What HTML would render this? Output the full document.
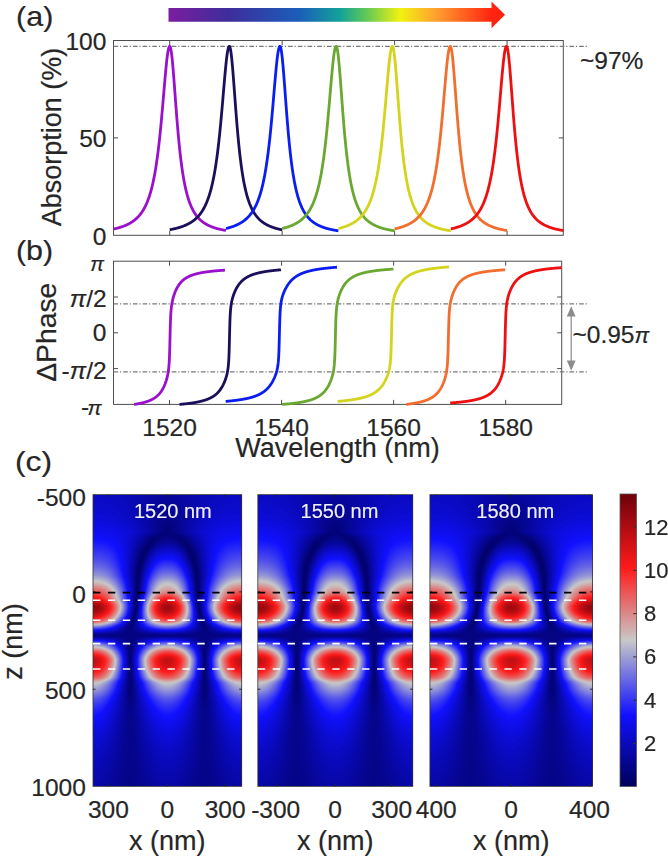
<!DOCTYPE html>
<html><head><meta charset="utf-8"><style>
html,body{margin:0;padding:0;background:#fff;width:668px;height:857px;overflow:hidden;position:relative}
svg{position:absolute;left:0;top:0}
svg text{font-family:"Liberation Sans",sans-serif;fill:#262626;stroke:#262626;stroke-width:0.2px}
canvas{position:absolute}
</style></head><body>
<svg width="668" height="857" viewBox="0 0 668 857">
<defs><linearGradient id="rb" x1="168" y1="0" x2="505" y2="0" gradientUnits="userSpaceOnUse"><stop offset="0" stop-color="#7b1e9e"/><stop offset="0.18" stop-color="#3d2d9c"/><stop offset="0.39" stop-color="#1b5eba"/><stop offset="0.51" stop-color="#12a298"/><stop offset="0.585" stop-color="#5cc75a"/><stop offset="0.69" stop-color="#f2f210"/><stop offset="0.795" stop-color="#ffa030"/><stop offset="0.96" stop-color="#ff2410"/><stop offset="1" stop-color="#ff2010"/></linearGradient></defs>
<path d="M168.5,8 L491.5,8 L491.5,1.5 L505,14.8 L491.5,28.2 L491.5,21.7 L168.5,21.7 Z" fill="url(#rb)"/>
<rect x="113.5" y="40.5" width="449.79999999999995" height="194.8" fill="none" stroke="#4e4e4e" stroke-width="1"/>
<path d="M169.72,235.3 v-4.5 M169.72,40.5 v4.5" stroke="#4e4e4e" stroke-width="1"/>
<path d="M282.17,235.3 v-4.5 M282.17,40.5 v4.5" stroke="#4e4e4e" stroke-width="1"/>
<path d="M394.62,235.3 v-4.5 M394.62,40.5 v4.5" stroke="#4e4e4e" stroke-width="1"/>
<path d="M507.07,235.3 v-4.5 M507.07,40.5 v4.5" stroke="#4e4e4e" stroke-width="1"/>
<path d="M113.5,137.90 h4.5 M563.3,137.90 h-4.5" stroke="#4e4e4e" stroke-width="1"/>
<path d="M113.5,46.34 H588.5" stroke="#7a7a7a" stroke-width="1.3" stroke-dasharray="4.7 1.8 1.2 2"/>
<path d="M113.50,229.05 L113.78,228.99 L114.06,228.92 L114.34,228.86 L114.62,228.80 L114.91,228.73 L115.19,228.67 L115.47,228.60 L115.75,228.53 L116.03,228.47 L116.31,228.40 L116.59,228.33 L116.87,228.25 L117.15,228.18 L117.44,228.11 L117.72,228.03 L118.00,227.96 L118.28,227.88 L118.56,227.80 L118.84,227.72 L119.12,227.64 L119.40,227.56 L119.68,227.47 L119.97,227.39 L120.25,227.30 L120.53,227.21 L120.81,227.13 L121.09,227.03 L121.37,226.94 L121.65,226.85 L121.93,226.75 L122.21,226.66 L122.50,226.56 L122.78,226.46 L123.06,226.36 L123.34,226.25 L123.62,226.15 L123.90,226.04 L124.18,225.93 L124.46,225.82 L124.75,225.71 L125.03,225.59 L125.31,225.48 L125.59,225.36 L125.87,225.24 L126.15,225.11 L126.43,224.99 L126.71,224.86 L126.99,224.73 L127.28,224.60 L127.56,224.46 L127.84,224.32 L128.12,224.18 L128.40,224.04 L128.68,223.90 L128.96,223.75 L129.24,223.60 L129.52,223.44 L129.81,223.29 L130.09,223.13 L130.37,222.96 L130.65,222.80 L130.93,222.63 L131.21,222.45 L131.49,222.28 L131.77,222.10 L132.05,221.91 L132.34,221.73 L132.62,221.54 L132.90,221.34 L133.18,221.14 L133.46,220.94 L133.74,220.73 L134.02,220.52 L134.30,220.30 L134.58,220.08 L134.87,219.85 L135.15,219.62 L135.43,219.38 L135.71,219.14 L135.99,218.90 L136.27,218.64 L136.55,218.39 L136.83,218.12 L137.11,217.85 L137.40,217.57 L137.68,217.29 L137.96,217.00 L138.24,216.71 L138.52,216.40 L138.80,216.09 L139.08,215.78 L139.36,215.45 L139.64,215.12 L139.93,214.78 L140.21,214.43 L140.49,214.07 L140.77,213.70 L141.05,213.33 L141.33,212.94 L141.61,212.55 L141.89,212.14 L142.17,211.73 L142.46,211.30 L142.74,210.86 L143.02,210.41 L143.30,209.95 L143.58,209.48 L143.86,208.99 L144.14,208.49 L144.42,207.98 L144.70,207.45 L144.99,206.91 L145.27,206.36 L145.55,205.79 L145.83,205.20 L146.11,204.60 L146.39,203.98 L146.67,203.34 L146.95,202.68 L147.24,202.00 L147.52,201.31 L147.80,200.59 L148.08,199.85 L148.36,199.10 L148.64,198.31 L148.92,197.51 L149.20,196.68 L149.48,195.82 L149.77,194.94 L150.05,194.04 L150.33,193.10 L150.61,192.14 L150.89,191.14 L151.17,190.12 L151.45,189.06 L151.73,187.97 L152.01,186.84 L152.30,185.68 L152.58,184.48 L152.86,183.24 L153.14,181.96 L153.42,180.65 L153.70,179.28 L153.98,177.88 L154.26,176.43 L154.54,174.93 L154.83,173.39 L155.11,171.79 L155.39,170.14 L155.67,168.44 L155.95,166.68 L156.23,164.87 L156.51,163.00 L156.79,161.07 L157.07,159.08 L157.36,157.03 L157.64,154.91 L157.92,152.73 L158.20,150.49 L158.48,148.17 L158.76,145.79 L159.04,143.34 L159.32,140.82 L159.60,138.23 L159.89,135.58 L160.17,132.85 L160.45,130.06 L160.73,127.20 L161.01,124.28 L161.29,121.29 L161.57,118.25 L161.85,115.15 L162.13,112.00 L162.42,108.81 L162.70,105.57 L162.98,102.30 L163.26,99.01 L163.54,95.70 L163.82,92.38 L164.10,89.07 L164.38,85.77 L164.66,82.51 L164.95,79.28 L165.23,76.11 L165.51,73.02 L165.79,70.01 L166.07,67.11 L166.35,64.33 L166.63,61.69 L166.91,59.21 L167.19,56.90 L167.48,54.78 L167.76,52.87 L168.04,51.19 L168.32,49.73 L168.60,48.53 L168.88,47.58 L169.16,46.89 L169.44,46.48 L169.72,46.34 L170.01,46.52 L170.29,47.06 L170.57,47.95 L170.85,49.18 L171.13,50.74 L171.41,52.61 L171.69,54.77 L171.97,57.20 L172.26,59.88 L172.54,62.78 L172.82,65.87 L173.10,69.14 L173.38,72.55 L173.66,76.07 L173.94,79.70 L174.22,83.39 L174.50,87.13 L174.79,90.91 L175.07,94.70 L175.35,98.48 L175.63,102.24 L175.91,105.97 L176.19,109.66 L176.47,113.29 L176.75,116.86 L177.03,120.36 L177.32,123.78 L177.60,127.13 L177.88,130.39 L178.16,133.57 L178.44,136.65 L178.72,139.65 L179.00,142.56 L179.28,145.37 L179.56,148.10 L179.85,150.74 L180.13,153.29 L180.41,155.76 L180.69,158.14 L180.97,160.44 L181.25,162.66 L181.53,164.80 L181.81,166.87 L182.09,168.87 L182.38,170.79 L182.66,172.64 L182.94,174.43 L183.22,176.15 L183.50,177.82 L183.78,179.42 L184.06,180.97 L184.34,182.46 L184.62,183.90 L184.91,185.28 L185.19,186.62 L185.47,187.91 L185.75,189.16 L186.03,190.36 L186.31,191.52 L186.59,192.64 L186.87,193.72 L187.15,194.77 L187.44,195.78 L187.72,196.75 L188.00,197.69 L188.28,198.61 L188.56,199.49 L188.84,200.34 L189.12,201.16 L189.40,201.96 L189.68,202.73 L189.97,203.48 L190.25,204.20 L190.53,204.90 L190.81,205.58 L191.09,206.24 L191.37,206.88 L191.65,207.49 L191.93,208.09 L192.21,208.67 L192.50,209.24 L192.78,209.78 L193.06,210.31 L193.34,210.83 L193.62,211.33 L193.90,211.81 L194.18,212.29 L194.46,212.74 L194.75,213.19 L195.03,213.62 L195.31,214.04 L195.59,214.45 L195.87,214.85 L196.15,215.23 L196.43,215.61 L196.71,215.98 L196.99,216.33 L197.28,216.68 L197.56,217.02 L197.84,217.35 L198.12,217.67 L198.40,217.98 L198.68,218.29 L198.96,218.58 L199.24,218.87 L199.52,219.15 L199.81,219.43 L200.09,219.70 L200.37,219.96 L200.65,220.22 L200.93,220.46 L201.21,220.71 L201.49,220.95 L201.77,221.18 L202.05,221.40 L202.34,221.63 L202.62,221.84 L202.90,222.05 L203.18,222.26 L203.46,222.46 L203.74,222.66 L204.02,222.85 L204.30,223.04 L204.58,223.22 L204.87,223.40 L205.15,223.58 L205.43,223.75 L205.71,223.92 L205.99,224.09 L206.27,224.25 L206.55,224.41 L206.83,224.56 L207.11,224.71 L207.40,224.86 L207.68,225.01 L207.96,225.15 L208.24,225.29 L208.52,225.43 L208.80,225.56 L209.08,225.69 L209.36,225.82 L209.64,225.95 L209.93,226.07 L210.21,226.20 L210.49,226.31 L210.77,226.43 L211.05,226.55 L211.33,226.66 L211.61,226.77 L211.89,226.88 L212.17,226.98 L212.46,227.09 L212.74,227.19 L213.02,227.29 L213.30,227.39 L213.58,227.49 L213.86,227.58 L214.14,227.67 L214.42,227.77 L214.70,227.86 L214.99,227.95 L215.27,228.03 L215.55,228.12 L215.83,228.20 L216.11,228.28 L216.39,228.37 L216.67,228.45 L216.95,228.52 L217.24,228.60 L217.52,228.68 L217.80,228.75 L218.08,228.82 L218.36,228.90 L218.64,228.97 L218.92,229.04 L219.20,229.11 L219.48,229.17 L219.77,229.24 L220.05,229.31 L220.33,229.37 L220.61,229.43 L220.89,229.50 L221.17,229.56 L221.45,229.62 L221.73,229.68 L222.01,229.74 L222.30,229.79 L222.58,229.85 L222.86,229.91 L223.14,229.96 L223.42,230.01 L223.70,230.07 L223.98,230.12 L224.26,230.17 L224.54,230.22 L224.83,230.27 L225.11,230.32 L225.39,230.37 L225.67,230.42 L225.95,230.47" fill="none" stroke="#9a10cc" stroke-width="2.8" stroke-linejoin="round"/>
<path d="M169.72,229.71 L170.01,229.66 L170.29,229.61 L170.57,229.56 L170.85,229.50 L171.13,229.45 L171.41,229.39 L171.69,229.34 L171.97,229.28 L172.26,229.22 L172.54,229.17 L172.82,229.11 L173.10,229.05 L173.38,228.99 L173.66,228.92 L173.94,228.86 L174.22,228.80 L174.50,228.73 L174.79,228.67 L175.07,228.60 L175.35,228.53 L175.63,228.47 L175.91,228.40 L176.19,228.33 L176.47,228.25 L176.75,228.18 L177.03,228.11 L177.32,228.03 L177.60,227.96 L177.88,227.88 L178.16,227.80 L178.44,227.72 L178.72,227.64 L179.00,227.56 L179.28,227.47 L179.56,227.39 L179.85,227.30 L180.13,227.21 L180.41,227.13 L180.69,227.03 L180.97,226.94 L181.25,226.85 L181.53,226.75 L181.81,226.66 L182.09,226.56 L182.38,226.46 L182.66,226.36 L182.94,226.25 L183.22,226.15 L183.50,226.04 L183.78,225.93 L184.06,225.82 L184.34,225.71 L184.62,225.59 L184.91,225.48 L185.19,225.36 L185.47,225.24 L185.75,225.11 L186.03,224.99 L186.31,224.86 L186.59,224.73 L186.87,224.60 L187.15,224.46 L187.44,224.32 L187.72,224.18 L188.00,224.04 L188.28,223.90 L188.56,223.75 L188.84,223.60 L189.12,223.44 L189.40,223.29 L189.68,223.13 L189.97,222.96 L190.25,222.80 L190.53,222.63 L190.81,222.45 L191.09,222.28 L191.37,222.10 L191.65,221.91 L191.93,221.73 L192.21,221.54 L192.50,221.34 L192.78,221.14 L193.06,220.94 L193.34,220.73 L193.62,220.52 L193.90,220.30 L194.18,220.08 L194.46,219.85 L194.75,219.62 L195.03,219.38 L195.31,219.14 L195.59,218.90 L195.87,218.64 L196.15,218.39 L196.43,218.12 L196.71,217.85 L196.99,217.57 L197.28,217.29 L197.56,217.00 L197.84,216.71 L198.12,216.40 L198.40,216.09 L198.68,215.78 L198.96,215.45 L199.24,215.12 L199.52,214.78 L199.81,214.43 L200.09,214.07 L200.37,213.70 L200.65,213.33 L200.93,212.94 L201.21,212.55 L201.49,212.14 L201.77,211.73 L202.05,211.30 L202.34,210.86 L202.62,210.41 L202.90,209.95 L203.18,209.48 L203.46,208.99 L203.74,208.49 L204.02,207.98 L204.30,207.45 L204.58,206.91 L204.87,206.36 L205.15,205.79 L205.43,205.20 L205.71,204.60 L205.99,203.98 L206.27,203.34 L206.55,202.68 L206.83,202.00 L207.11,201.31 L207.40,200.59 L207.68,199.85 L207.96,199.10 L208.24,198.31 L208.52,197.51 L208.80,196.68 L209.08,195.82 L209.36,194.94 L209.64,194.04 L209.93,193.10 L210.21,192.14 L210.49,191.14 L210.77,190.12 L211.05,189.06 L211.33,187.97 L211.61,186.84 L211.89,185.68 L212.17,184.48 L212.46,183.24 L212.74,181.96 L213.02,180.65 L213.30,179.28 L213.58,177.88 L213.86,176.43 L214.14,174.93 L214.42,173.39 L214.70,171.79 L214.99,170.14 L215.27,168.44 L215.55,166.68 L215.83,164.87 L216.11,163.00 L216.39,161.07 L216.67,159.08 L216.95,157.03 L217.24,154.91 L217.52,152.73 L217.80,150.49 L218.08,148.17 L218.36,145.79 L218.64,143.34 L218.92,140.82 L219.20,138.23 L219.48,135.58 L219.77,132.85 L220.05,130.06 L220.33,127.20 L220.61,124.28 L220.89,121.29 L221.17,118.25 L221.45,115.15 L221.73,112.00 L222.01,108.81 L222.30,105.57 L222.58,102.30 L222.86,99.01 L223.14,95.70 L223.42,92.38 L223.70,89.07 L223.98,85.77 L224.26,82.51 L224.54,79.28 L224.83,76.11 L225.11,73.02 L225.39,70.01 L225.67,67.11 L225.95,64.33 L226.23,61.69 L226.51,59.21 L226.79,56.90 L227.07,54.78 L227.36,52.87 L227.64,51.19 L227.92,49.73 L228.20,48.53 L228.48,47.58 L228.76,46.89 L229.04,46.48 L229.32,46.34 L229.60,46.52 L229.89,47.06 L230.17,47.95 L230.45,49.18 L230.73,50.74 L231.01,52.61 L231.29,54.77 L231.57,57.20 L231.85,59.88 L232.13,62.78 L232.42,65.87 L232.70,69.14 L232.98,72.55 L233.26,76.07 L233.54,79.70 L233.82,83.39 L234.10,87.13 L234.38,90.91 L234.66,94.70 L234.95,98.48 L235.23,102.24 L235.51,105.97 L235.79,109.66 L236.07,113.29 L236.35,116.86 L236.63,120.36 L236.91,123.78 L237.19,127.13 L237.48,130.39 L237.76,133.57 L238.04,136.65 L238.32,139.65 L238.60,142.56 L238.88,145.37 L239.16,148.10 L239.44,150.74 L239.73,153.29 L240.01,155.76 L240.29,158.14 L240.57,160.44 L240.85,162.66 L241.13,164.80 L241.41,166.87 L241.69,168.87 L241.97,170.79 L242.26,172.64 L242.54,174.43 L242.82,176.15 L243.10,177.82 L243.38,179.42 L243.66,180.97 L243.94,182.46 L244.22,183.90 L244.50,185.28 L244.79,186.62 L245.07,187.91 L245.35,189.16 L245.63,190.36 L245.91,191.52 L246.19,192.64 L246.47,193.72 L246.75,194.77 L247.03,195.78 L247.32,196.75 L247.60,197.69 L247.88,198.61 L248.16,199.49 L248.44,200.34 L248.72,201.16 L249.00,201.96 L249.28,202.73 L249.56,203.48 L249.85,204.20 L250.13,204.90 L250.41,205.58 L250.69,206.24 L250.97,206.88 L251.25,207.49 L251.53,208.09 L251.81,208.67 L252.09,209.24 L252.38,209.78 L252.66,210.31 L252.94,210.83 L253.22,211.33 L253.50,211.81 L253.78,212.29 L254.06,212.74 L254.34,213.19 L254.62,213.62 L254.91,214.04 L255.19,214.45 L255.47,214.85 L255.75,215.23 L256.03,215.61 L256.31,215.98 L256.59,216.33 L256.87,216.68 L257.15,217.02 L257.44,217.35 L257.72,217.67 L258.00,217.98 L258.28,218.29 L258.56,218.58 L258.84,218.87 L259.12,219.15 L259.40,219.43 L259.69,219.70 L259.97,219.96 L260.25,220.22 L260.53,220.46 L260.81,220.71 L261.09,220.95 L261.37,221.18 L261.65,221.40 L261.93,221.63 L262.22,221.84 L262.50,222.05 L262.78,222.26 L263.06,222.46 L263.34,222.66 L263.62,222.85 L263.90,223.04 L264.18,223.22 L264.46,223.40 L264.75,223.58 L265.03,223.75 L265.31,223.92 L265.59,224.09 L265.87,224.25 L266.15,224.41 L266.43,224.56 L266.71,224.71 L266.99,224.86 L267.28,225.01 L267.56,225.15 L267.84,225.29 L268.12,225.43 L268.40,225.56 L268.68,225.69 L268.96,225.82 L269.24,225.95 L269.52,226.07 L269.81,226.20 L270.09,226.31 L270.37,226.43 L270.65,226.55 L270.93,226.66 L271.21,226.77 L271.49,226.88 L271.77,226.98 L272.05,227.09 L272.34,227.19 L272.62,227.29 L272.90,227.39 L273.18,227.49 L273.46,227.58 L273.74,227.67 L274.02,227.77 L274.30,227.86 L274.58,227.95 L274.87,228.03 L275.15,228.12 L275.43,228.20 L275.71,228.28 L275.99,228.37 L276.27,228.45 L276.55,228.52 L276.83,228.60 L277.11,228.68 L277.40,228.75 L277.68,228.82 L277.96,228.90 L278.24,228.97 L278.52,229.04 L278.80,229.11 L279.08,229.17 L279.36,229.24 L279.64,229.31 L279.93,229.37 L280.21,229.43 L280.49,229.50 L280.77,229.56 L281.05,229.62 L281.33,229.68 L281.61,229.74 L281.89,229.79 L282.17,229.85" fill="none" stroke="#1c0f5a" stroke-width="2.8" stroke-linejoin="round"/>
<path d="M225.95,228.53 L226.23,228.47 L226.51,228.40 L226.79,228.33 L227.07,228.25 L227.36,228.18 L227.64,228.11 L227.92,228.03 L228.20,227.96 L228.48,227.88 L228.76,227.80 L229.04,227.72 L229.32,227.64 L229.60,227.56 L229.89,227.47 L230.17,227.39 L230.45,227.30 L230.73,227.21 L231.01,227.13 L231.29,227.03 L231.57,226.94 L231.85,226.85 L232.13,226.75 L232.42,226.66 L232.70,226.56 L232.98,226.46 L233.26,226.36 L233.54,226.25 L233.82,226.15 L234.10,226.04 L234.38,225.93 L234.66,225.82 L234.95,225.71 L235.23,225.59 L235.51,225.48 L235.79,225.36 L236.07,225.24 L236.35,225.11 L236.63,224.99 L236.91,224.86 L237.19,224.73 L237.48,224.60 L237.76,224.46 L238.04,224.32 L238.32,224.18 L238.60,224.04 L238.88,223.90 L239.16,223.75 L239.44,223.60 L239.73,223.44 L240.01,223.29 L240.29,223.13 L240.57,222.96 L240.85,222.80 L241.13,222.63 L241.41,222.45 L241.69,222.28 L241.97,222.10 L242.26,221.91 L242.54,221.73 L242.82,221.54 L243.10,221.34 L243.38,221.14 L243.66,220.94 L243.94,220.73 L244.22,220.52 L244.50,220.30 L244.79,220.08 L245.07,219.85 L245.35,219.62 L245.63,219.38 L245.91,219.14 L246.19,218.90 L246.47,218.64 L246.75,218.39 L247.03,218.12 L247.32,217.85 L247.60,217.57 L247.88,217.29 L248.16,217.00 L248.44,216.71 L248.72,216.40 L249.00,216.09 L249.28,215.78 L249.56,215.45 L249.85,215.12 L250.13,214.78 L250.41,214.43 L250.69,214.07 L250.97,213.70 L251.25,213.33 L251.53,212.94 L251.81,212.55 L252.09,212.14 L252.38,211.73 L252.66,211.30 L252.94,210.86 L253.22,210.41 L253.50,209.95 L253.78,209.48 L254.06,208.99 L254.34,208.49 L254.62,207.98 L254.91,207.45 L255.19,206.91 L255.47,206.36 L255.75,205.79 L256.03,205.20 L256.31,204.60 L256.59,203.98 L256.87,203.34 L257.15,202.68 L257.44,202.00 L257.72,201.31 L258.00,200.59 L258.28,199.85 L258.56,199.10 L258.84,198.31 L259.12,197.51 L259.40,196.68 L259.69,195.82 L259.97,194.94 L260.25,194.04 L260.53,193.10 L260.81,192.14 L261.09,191.14 L261.37,190.12 L261.65,189.06 L261.93,187.97 L262.22,186.84 L262.50,185.68 L262.78,184.48 L263.06,183.24 L263.34,181.96 L263.62,180.65 L263.90,179.28 L264.18,177.88 L264.46,176.43 L264.75,174.93 L265.03,173.39 L265.31,171.79 L265.59,170.14 L265.87,168.44 L266.15,166.68 L266.43,164.87 L266.71,163.00 L266.99,161.07 L267.28,159.08 L267.56,157.03 L267.84,154.91 L268.12,152.73 L268.40,150.49 L268.68,148.17 L268.96,145.79 L269.24,143.34 L269.52,140.82 L269.81,138.23 L270.09,135.58 L270.37,132.85 L270.65,130.06 L270.93,127.20 L271.21,124.28 L271.49,121.29 L271.77,118.25 L272.05,115.15 L272.34,112.00 L272.62,108.81 L272.90,105.57 L273.18,102.30 L273.46,99.01 L273.74,95.70 L274.02,92.38 L274.30,89.07 L274.58,85.77 L274.87,82.51 L275.15,79.28 L275.43,76.11 L275.71,73.02 L275.99,70.01 L276.27,67.11 L276.55,64.33 L276.83,61.69 L277.11,59.21 L277.40,56.90 L277.68,54.78 L277.96,52.87 L278.24,51.19 L278.52,49.73 L278.80,48.53 L279.08,47.58 L279.36,46.89 L279.64,46.48 L279.93,46.34 L280.21,46.52 L280.49,47.06 L280.77,47.95 L281.05,49.18 L281.33,50.74 L281.61,52.61 L281.89,54.77 L282.17,57.20 L282.46,59.88 L282.74,62.78 L283.02,65.87 L283.30,69.14 L283.58,72.55 L283.86,76.07 L284.14,79.70 L284.42,83.39 L284.71,87.13 L284.99,90.91 L285.27,94.70 L285.55,98.48 L285.83,102.24 L286.11,105.97 L286.39,109.66 L286.67,113.29 L286.95,116.86 L287.24,120.36 L287.52,123.78 L287.80,127.13 L288.08,130.39 L288.36,133.57 L288.64,136.65 L288.92,139.65 L289.20,142.56 L289.48,145.37 L289.77,148.10 L290.05,150.74 L290.33,153.29 L290.61,155.76 L290.89,158.14 L291.17,160.44 L291.45,162.66 L291.73,164.80 L292.01,166.87 L292.30,168.87 L292.58,170.79 L292.86,172.64 L293.14,174.43 L293.42,176.15 L293.70,177.82 L293.98,179.42 L294.26,180.97 L294.54,182.46 L294.83,183.90 L295.11,185.28 L295.39,186.62 L295.67,187.91 L295.95,189.16 L296.23,190.36 L296.51,191.52 L296.79,192.64 L297.07,193.72 L297.36,194.77 L297.64,195.78 L297.92,196.75 L298.20,197.69 L298.48,198.61 L298.76,199.49 L299.04,200.34 L299.32,201.16 L299.60,201.96 L299.89,202.73 L300.17,203.48 L300.45,204.20 L300.73,204.90 L301.01,205.58 L301.29,206.24 L301.57,206.88 L301.85,207.49 L302.13,208.09 L302.42,208.67 L302.70,209.24 L302.98,209.78 L303.26,210.31 L303.54,210.83 L303.82,211.33 L304.10,211.81 L304.38,212.29 L304.66,212.74 L304.95,213.19 L305.23,213.62 L305.51,214.04 L305.79,214.45 L306.07,214.85 L306.35,215.23 L306.63,215.61 L306.91,215.98 L307.20,216.33 L307.48,216.68 L307.76,217.02 L308.04,217.35 L308.32,217.67 L308.60,217.98 L308.88,218.29 L309.16,218.58 L309.44,218.87 L309.73,219.15 L310.01,219.43 L310.29,219.70 L310.57,219.96 L310.85,220.22 L311.13,220.46 L311.41,220.71 L311.69,220.95 L311.97,221.18 L312.26,221.40 L312.54,221.63 L312.82,221.84 L313.10,222.05 L313.38,222.26 L313.66,222.46 L313.94,222.66 L314.22,222.85 L314.50,223.04 L314.79,223.22 L315.07,223.40 L315.35,223.58 L315.63,223.75 L315.91,223.92 L316.19,224.09 L316.47,224.25 L316.75,224.41 L317.03,224.56 L317.32,224.71 L317.60,224.86 L317.88,225.01 L318.16,225.15 L318.44,225.29 L318.72,225.43 L319.00,225.56 L319.28,225.69 L319.56,225.82 L319.85,225.95 L320.13,226.07 L320.41,226.20 L320.69,226.31 L320.97,226.43 L321.25,226.55 L321.53,226.66 L321.81,226.77 L322.09,226.88 L322.38,226.98 L322.66,227.09 L322.94,227.19 L323.22,227.29 L323.50,227.39 L323.78,227.49 L324.06,227.58 L324.34,227.67 L324.62,227.77 L324.91,227.86 L325.19,227.95 L325.47,228.03 L325.75,228.12 L326.03,228.20 L326.31,228.28 L326.59,228.37 L326.87,228.45 L327.15,228.52 L327.44,228.60 L327.72,228.68 L328.00,228.75 L328.28,228.82 L328.56,228.90 L328.84,228.97 L329.12,229.04 L329.40,229.11 L329.69,229.17 L329.97,229.24 L330.25,229.31 L330.53,229.37 L330.81,229.43 L331.09,229.50 L331.37,229.56 L331.65,229.62 L331.93,229.68 L332.22,229.74 L332.50,229.79 L332.78,229.85 L333.06,229.91 L333.34,229.96 L333.62,230.01 L333.90,230.07 L334.18,230.12 L334.46,230.17 L334.75,230.22 L335.03,230.27 L335.31,230.32 L335.59,230.37 L335.87,230.42 L336.15,230.47 L336.43,230.51 L336.71,230.56 L336.99,230.61 L337.28,230.65 L337.56,230.70 L337.84,230.74 L338.12,230.78 L338.40,230.82" fill="none" stroke="#0a1ef0" stroke-width="2.8" stroke-linejoin="round"/>
<path d="M282.17,228.53 L282.46,228.47 L282.74,228.40 L283.02,228.33 L283.30,228.25 L283.58,228.18 L283.86,228.11 L284.14,228.03 L284.42,227.96 L284.71,227.88 L284.99,227.80 L285.27,227.72 L285.55,227.64 L285.83,227.56 L286.11,227.47 L286.39,227.39 L286.67,227.30 L286.95,227.21 L287.24,227.13 L287.52,227.03 L287.80,226.94 L288.08,226.85 L288.36,226.75 L288.64,226.66 L288.92,226.56 L289.20,226.46 L289.48,226.36 L289.77,226.25 L290.05,226.15 L290.33,226.04 L290.61,225.93 L290.89,225.82 L291.17,225.71 L291.45,225.59 L291.73,225.48 L292.01,225.36 L292.30,225.24 L292.58,225.11 L292.86,224.99 L293.14,224.86 L293.42,224.73 L293.70,224.60 L293.98,224.46 L294.26,224.32 L294.54,224.18 L294.83,224.04 L295.11,223.90 L295.39,223.75 L295.67,223.60 L295.95,223.44 L296.23,223.29 L296.51,223.13 L296.79,222.96 L297.07,222.80 L297.36,222.63 L297.64,222.45 L297.92,222.28 L298.20,222.10 L298.48,221.91 L298.76,221.73 L299.04,221.54 L299.32,221.34 L299.60,221.14 L299.89,220.94 L300.17,220.73 L300.45,220.52 L300.73,220.30 L301.01,220.08 L301.29,219.85 L301.57,219.62 L301.85,219.38 L302.13,219.14 L302.42,218.90 L302.70,218.64 L302.98,218.39 L303.26,218.12 L303.54,217.85 L303.82,217.57 L304.10,217.29 L304.38,217.00 L304.66,216.71 L304.95,216.40 L305.23,216.09 L305.51,215.78 L305.79,215.45 L306.07,215.12 L306.35,214.78 L306.63,214.43 L306.91,214.07 L307.20,213.70 L307.48,213.33 L307.76,212.94 L308.04,212.55 L308.32,212.14 L308.60,211.73 L308.88,211.30 L309.16,210.86 L309.44,210.41 L309.73,209.95 L310.01,209.48 L310.29,208.99 L310.57,208.49 L310.85,207.98 L311.13,207.45 L311.41,206.91 L311.69,206.36 L311.97,205.79 L312.26,205.20 L312.54,204.60 L312.82,203.98 L313.10,203.34 L313.38,202.68 L313.66,202.00 L313.94,201.31 L314.22,200.59 L314.50,199.85 L314.79,199.10 L315.07,198.31 L315.35,197.51 L315.63,196.68 L315.91,195.82 L316.19,194.94 L316.47,194.04 L316.75,193.10 L317.03,192.14 L317.32,191.14 L317.60,190.12 L317.88,189.06 L318.16,187.97 L318.44,186.84 L318.72,185.68 L319.00,184.48 L319.28,183.24 L319.56,181.96 L319.85,180.65 L320.13,179.28 L320.41,177.88 L320.69,176.43 L320.97,174.93 L321.25,173.39 L321.53,171.79 L321.81,170.14 L322.09,168.44 L322.38,166.68 L322.66,164.87 L322.94,163.00 L323.22,161.07 L323.50,159.08 L323.78,157.03 L324.06,154.91 L324.34,152.73 L324.62,150.49 L324.91,148.17 L325.19,145.79 L325.47,143.34 L325.75,140.82 L326.03,138.23 L326.31,135.58 L326.59,132.85 L326.87,130.06 L327.15,127.20 L327.44,124.28 L327.72,121.29 L328.00,118.25 L328.28,115.15 L328.56,112.00 L328.84,108.81 L329.12,105.57 L329.40,102.30 L329.69,99.01 L329.97,95.70 L330.25,92.38 L330.53,89.07 L330.81,85.77 L331.09,82.51 L331.37,79.28 L331.65,76.11 L331.93,73.02 L332.22,70.01 L332.50,67.11 L332.78,64.33 L333.06,61.69 L333.34,59.21 L333.62,56.90 L333.90,54.78 L334.18,52.87 L334.46,51.19 L334.75,49.73 L335.03,48.53 L335.31,47.58 L335.59,46.89 L335.87,46.48 L336.15,46.34 L336.43,46.52 L336.71,47.06 L336.99,47.95 L337.28,49.18 L337.56,50.74 L337.84,52.61 L338.12,54.77 L338.40,57.20 L338.68,59.88 L338.96,62.78 L339.24,65.87 L339.52,69.14 L339.81,72.55 L340.09,76.07 L340.37,79.70 L340.65,83.39 L340.93,87.13 L341.21,90.91 L341.49,94.70 L341.77,98.48 L342.05,102.24 L342.34,105.97 L342.62,109.66 L342.90,113.29 L343.18,116.86 L343.46,120.36 L343.74,123.78 L344.02,127.13 L344.30,130.39 L344.58,133.57 L344.87,136.65 L345.15,139.65 L345.43,142.56 L345.71,145.37 L345.99,148.10 L346.27,150.74 L346.55,153.29 L346.83,155.76 L347.11,158.14 L347.40,160.44 L347.68,162.66 L347.96,164.80 L348.24,166.87 L348.52,168.87 L348.80,170.79 L349.08,172.64 L349.36,174.43 L349.64,176.15 L349.93,177.82 L350.21,179.42 L350.49,180.97 L350.77,182.46 L351.05,183.90 L351.33,185.28 L351.61,186.62 L351.89,187.91 L352.18,189.16 L352.46,190.36 L352.74,191.52 L353.02,192.64 L353.30,193.72 L353.58,194.77 L353.86,195.78 L354.14,196.75 L354.42,197.69 L354.71,198.61 L354.99,199.49 L355.27,200.34 L355.55,201.16 L355.83,201.96 L356.11,202.73 L356.39,203.48 L356.67,204.20 L356.95,204.90 L357.24,205.58 L357.52,206.24 L357.80,206.88 L358.08,207.49 L358.36,208.09 L358.64,208.67 L358.92,209.24 L359.20,209.78 L359.48,210.31 L359.77,210.83 L360.05,211.33 L360.33,211.81 L360.61,212.29 L360.89,212.74 L361.17,213.19 L361.45,213.62 L361.73,214.04 L362.01,214.45 L362.30,214.85 L362.58,215.23 L362.86,215.61 L363.14,215.98 L363.42,216.33 L363.70,216.68 L363.98,217.02 L364.26,217.35 L364.54,217.67 L364.83,217.98 L365.11,218.29 L365.39,218.58 L365.67,218.87 L365.95,219.15 L366.23,219.43 L366.51,219.70 L366.79,219.96 L367.07,220.22 L367.36,220.46 L367.64,220.71 L367.92,220.95 L368.20,221.18 L368.48,221.40 L368.76,221.63 L369.04,221.84 L369.32,222.05 L369.60,222.26 L369.89,222.46 L370.17,222.66 L370.45,222.85 L370.73,223.04 L371.01,223.22 L371.29,223.40 L371.57,223.58 L371.85,223.75 L372.13,223.92 L372.42,224.09 L372.70,224.25 L372.98,224.41 L373.26,224.56 L373.54,224.71 L373.82,224.86 L374.10,225.01 L374.38,225.15 L374.67,225.29 L374.95,225.43 L375.23,225.56 L375.51,225.69 L375.79,225.82 L376.07,225.95 L376.35,226.07 L376.63,226.20 L376.91,226.31 L377.20,226.43 L377.48,226.55 L377.76,226.66 L378.04,226.77 L378.32,226.88 L378.60,226.98 L378.88,227.09 L379.16,227.19 L379.44,227.29 L379.73,227.39 L380.01,227.49 L380.29,227.58 L380.57,227.67 L380.85,227.77 L381.13,227.86 L381.41,227.95 L381.69,228.03 L381.97,228.12 L382.26,228.20 L382.54,228.28 L382.82,228.37 L383.10,228.45 L383.38,228.52 L383.66,228.60 L383.94,228.68 L384.22,228.75 L384.50,228.82 L384.79,228.90 L385.07,228.97 L385.35,229.04 L385.63,229.11 L385.91,229.17 L386.19,229.24 L386.47,229.31 L386.75,229.37 L387.03,229.43 L387.32,229.50 L387.60,229.56 L387.88,229.62 L388.16,229.68 L388.44,229.74 L388.72,229.79 L389.00,229.85 L389.28,229.91 L389.56,229.96 L389.85,230.01 L390.13,230.07 L390.41,230.12 L390.69,230.17 L390.97,230.22 L391.25,230.27 L391.53,230.32 L391.81,230.37 L392.09,230.42 L392.38,230.47 L392.66,230.51 L392.94,230.56 L393.22,230.61 L393.50,230.65 L393.78,230.70 L394.06,230.74 L394.34,230.78 L394.62,230.82" fill="none" stroke="#6aa832" stroke-width="2.8" stroke-linejoin="round"/>
<path d="M338.40,228.53 L338.68,228.47 L338.96,228.40 L339.24,228.33 L339.52,228.25 L339.81,228.18 L340.09,228.11 L340.37,228.03 L340.65,227.96 L340.93,227.88 L341.21,227.80 L341.49,227.72 L341.77,227.64 L342.05,227.56 L342.34,227.47 L342.62,227.39 L342.90,227.30 L343.18,227.21 L343.46,227.13 L343.74,227.03 L344.02,226.94 L344.30,226.85 L344.58,226.75 L344.87,226.66 L345.15,226.56 L345.43,226.46 L345.71,226.36 L345.99,226.25 L346.27,226.15 L346.55,226.04 L346.83,225.93 L347.11,225.82 L347.40,225.71 L347.68,225.59 L347.96,225.48 L348.24,225.36 L348.52,225.24 L348.80,225.11 L349.08,224.99 L349.36,224.86 L349.64,224.73 L349.93,224.60 L350.21,224.46 L350.49,224.32 L350.77,224.18 L351.05,224.04 L351.33,223.90 L351.61,223.75 L351.89,223.60 L352.18,223.44 L352.46,223.29 L352.74,223.13 L353.02,222.96 L353.30,222.80 L353.58,222.63 L353.86,222.45 L354.14,222.28 L354.42,222.10 L354.71,221.91 L354.99,221.73 L355.27,221.54 L355.55,221.34 L355.83,221.14 L356.11,220.94 L356.39,220.73 L356.67,220.52 L356.95,220.30 L357.24,220.08 L357.52,219.85 L357.80,219.62 L358.08,219.38 L358.36,219.14 L358.64,218.90 L358.92,218.64 L359.20,218.39 L359.48,218.12 L359.77,217.85 L360.05,217.57 L360.33,217.29 L360.61,217.00 L360.89,216.71 L361.17,216.40 L361.45,216.09 L361.73,215.78 L362.01,215.45 L362.30,215.12 L362.58,214.78 L362.86,214.43 L363.14,214.07 L363.42,213.70 L363.70,213.33 L363.98,212.94 L364.26,212.55 L364.54,212.14 L364.83,211.73 L365.11,211.30 L365.39,210.86 L365.67,210.41 L365.95,209.95 L366.23,209.48 L366.51,208.99 L366.79,208.49 L367.07,207.98 L367.36,207.45 L367.64,206.91 L367.92,206.36 L368.20,205.79 L368.48,205.20 L368.76,204.60 L369.04,203.98 L369.32,203.34 L369.60,202.68 L369.89,202.00 L370.17,201.31 L370.45,200.59 L370.73,199.85 L371.01,199.10 L371.29,198.31 L371.57,197.51 L371.85,196.68 L372.13,195.82 L372.42,194.94 L372.70,194.04 L372.98,193.10 L373.26,192.14 L373.54,191.14 L373.82,190.12 L374.10,189.06 L374.38,187.97 L374.67,186.84 L374.95,185.68 L375.23,184.48 L375.51,183.24 L375.79,181.96 L376.07,180.65 L376.35,179.28 L376.63,177.88 L376.91,176.43 L377.20,174.93 L377.48,173.39 L377.76,171.79 L378.04,170.14 L378.32,168.44 L378.60,166.68 L378.88,164.87 L379.16,163.00 L379.44,161.07 L379.73,159.08 L380.01,157.03 L380.29,154.91 L380.57,152.73 L380.85,150.49 L381.13,148.17 L381.41,145.79 L381.69,143.34 L381.97,140.82 L382.26,138.23 L382.54,135.58 L382.82,132.85 L383.10,130.06 L383.38,127.20 L383.66,124.28 L383.94,121.29 L384.22,118.25 L384.50,115.15 L384.79,112.00 L385.07,108.81 L385.35,105.57 L385.63,102.30 L385.91,99.01 L386.19,95.70 L386.47,92.38 L386.75,89.07 L387.03,85.77 L387.32,82.51 L387.60,79.28 L387.88,76.11 L388.16,73.02 L388.44,70.01 L388.72,67.11 L389.00,64.33 L389.28,61.69 L389.56,59.21 L389.85,56.90 L390.13,54.78 L390.41,52.87 L390.69,51.19 L390.97,49.73 L391.25,48.53 L391.53,47.58 L391.81,46.89 L392.09,46.48 L392.38,46.34 L392.66,46.52 L392.94,47.06 L393.22,47.95 L393.50,49.18 L393.78,50.74 L394.06,52.61 L394.34,54.77 L394.62,57.20 L394.91,59.88 L395.19,62.78 L395.47,65.87 L395.75,69.14 L396.03,72.55 L396.31,76.07 L396.59,79.70 L396.87,83.39 L397.16,87.13 L397.44,90.91 L397.72,94.70 L398.00,98.48 L398.28,102.24 L398.56,105.97 L398.84,109.66 L399.12,113.29 L399.40,116.86 L399.69,120.36 L399.97,123.78 L400.25,127.13 L400.53,130.39 L400.81,133.57 L401.09,136.65 L401.37,139.65 L401.65,142.56 L401.93,145.37 L402.22,148.10 L402.50,150.74 L402.78,153.29 L403.06,155.76 L403.34,158.14 L403.62,160.44 L403.90,162.66 L404.18,164.80 L404.46,166.87 L404.75,168.87 L405.03,170.79 L405.31,172.64 L405.59,174.43 L405.87,176.15 L406.15,177.82 L406.43,179.42 L406.71,180.97 L406.99,182.46 L407.28,183.90 L407.56,185.28 L407.84,186.62 L408.12,187.91 L408.40,189.16 L408.68,190.36 L408.96,191.52 L409.24,192.64 L409.52,193.72 L409.81,194.77 L410.09,195.78 L410.37,196.75 L410.65,197.69 L410.93,198.61 L411.21,199.49 L411.49,200.34 L411.77,201.16 L412.05,201.96 L412.34,202.73 L412.62,203.48 L412.90,204.20 L413.18,204.90 L413.46,205.58 L413.74,206.24 L414.02,206.88 L414.30,207.49 L414.58,208.09 L414.87,208.67 L415.15,209.24 L415.43,209.78 L415.71,210.31 L415.99,210.83 L416.27,211.33 L416.55,211.81 L416.83,212.29 L417.11,212.74 L417.40,213.19 L417.68,213.62 L417.96,214.04 L418.24,214.45 L418.52,214.85 L418.80,215.23 L419.08,215.61 L419.36,215.98 L419.65,216.33 L419.93,216.68 L420.21,217.02 L420.49,217.35 L420.77,217.67 L421.05,217.98 L421.33,218.29 L421.61,218.58 L421.89,218.87 L422.18,219.15 L422.46,219.43 L422.74,219.70 L423.02,219.96 L423.30,220.22 L423.58,220.46 L423.86,220.71 L424.14,220.95 L424.42,221.18 L424.71,221.40 L424.99,221.63 L425.27,221.84 L425.55,222.05 L425.83,222.26 L426.11,222.46 L426.39,222.66 L426.67,222.85 L426.95,223.04 L427.24,223.22 L427.52,223.40 L427.80,223.58 L428.08,223.75 L428.36,223.92 L428.64,224.09 L428.92,224.25 L429.20,224.41 L429.48,224.56 L429.77,224.71 L430.05,224.86 L430.33,225.01 L430.61,225.15 L430.89,225.29 L431.17,225.43 L431.45,225.56 L431.73,225.69 L432.01,225.82 L432.30,225.95 L432.58,226.07 L432.86,226.20 L433.14,226.31 L433.42,226.43 L433.70,226.55 L433.98,226.66 L434.26,226.77 L434.54,226.88 L434.83,226.98 L435.11,227.09 L435.39,227.19 L435.67,227.29 L435.95,227.39 L436.23,227.49 L436.51,227.58 L436.79,227.67 L437.07,227.77 L437.36,227.86 L437.64,227.95 L437.92,228.03 L438.20,228.12 L438.48,228.20 L438.76,228.28 L439.04,228.37 L439.32,228.45 L439.60,228.52 L439.89,228.60 L440.17,228.68 L440.45,228.75 L440.73,228.82 L441.01,228.90 L441.29,228.97 L441.57,229.04 L441.85,229.11 L442.14,229.17 L442.42,229.24 L442.70,229.31 L442.98,229.37 L443.26,229.43 L443.54,229.50 L443.82,229.56 L444.10,229.62 L444.38,229.68 L444.67,229.74 L444.95,229.79 L445.23,229.85 L445.51,229.91 L445.79,229.96 L446.07,230.01 L446.35,230.07 L446.63,230.12 L446.91,230.17 L447.20,230.22 L447.48,230.27 L447.76,230.32 L448.04,230.37 L448.32,230.42 L448.60,230.47 L448.88,230.51 L449.16,230.56 L449.44,230.61 L449.73,230.65 L450.01,230.70 L450.29,230.74 L450.57,230.78 L450.85,230.82" fill="none" stroke="#d4d41e" stroke-width="2.8" stroke-linejoin="round"/>
<path d="M394.62,228.92 L394.91,228.86 L395.19,228.80 L395.47,228.73 L395.75,228.67 L396.03,228.60 L396.31,228.53 L396.59,228.47 L396.87,228.40 L397.16,228.33 L397.44,228.25 L397.72,228.18 L398.00,228.11 L398.28,228.03 L398.56,227.96 L398.84,227.88 L399.12,227.80 L399.40,227.72 L399.69,227.64 L399.97,227.56 L400.25,227.47 L400.53,227.39 L400.81,227.30 L401.09,227.21 L401.37,227.13 L401.65,227.03 L401.93,226.94 L402.22,226.85 L402.50,226.75 L402.78,226.66 L403.06,226.56 L403.34,226.46 L403.62,226.36 L403.90,226.25 L404.18,226.15 L404.46,226.04 L404.75,225.93 L405.03,225.82 L405.31,225.71 L405.59,225.59 L405.87,225.48 L406.15,225.36 L406.43,225.24 L406.71,225.11 L406.99,224.99 L407.28,224.86 L407.56,224.73 L407.84,224.60 L408.12,224.46 L408.40,224.32 L408.68,224.18 L408.96,224.04 L409.24,223.90 L409.52,223.75 L409.81,223.60 L410.09,223.44 L410.37,223.29 L410.65,223.13 L410.93,222.96 L411.21,222.80 L411.49,222.63 L411.77,222.45 L412.05,222.28 L412.34,222.10 L412.62,221.91 L412.90,221.73 L413.18,221.54 L413.46,221.34 L413.74,221.14 L414.02,220.94 L414.30,220.73 L414.58,220.52 L414.87,220.30 L415.15,220.08 L415.43,219.85 L415.71,219.62 L415.99,219.38 L416.27,219.14 L416.55,218.90 L416.83,218.64 L417.11,218.39 L417.40,218.12 L417.68,217.85 L417.96,217.57 L418.24,217.29 L418.52,217.00 L418.80,216.71 L419.08,216.40 L419.36,216.09 L419.65,215.78 L419.93,215.45 L420.21,215.12 L420.49,214.78 L420.77,214.43 L421.05,214.07 L421.33,213.70 L421.61,213.33 L421.89,212.94 L422.18,212.55 L422.46,212.14 L422.74,211.73 L423.02,211.30 L423.30,210.86 L423.58,210.41 L423.86,209.95 L424.14,209.48 L424.42,208.99 L424.71,208.49 L424.99,207.98 L425.27,207.45 L425.55,206.91 L425.83,206.36 L426.11,205.79 L426.39,205.20 L426.67,204.60 L426.95,203.98 L427.24,203.34 L427.52,202.68 L427.80,202.00 L428.08,201.31 L428.36,200.59 L428.64,199.85 L428.92,199.10 L429.20,198.31 L429.48,197.51 L429.77,196.68 L430.05,195.82 L430.33,194.94 L430.61,194.04 L430.89,193.10 L431.17,192.14 L431.45,191.14 L431.73,190.12 L432.01,189.06 L432.30,187.97 L432.58,186.84 L432.86,185.68 L433.14,184.48 L433.42,183.24 L433.70,181.96 L433.98,180.65 L434.26,179.28 L434.54,177.88 L434.83,176.43 L435.11,174.93 L435.39,173.39 L435.67,171.79 L435.95,170.14 L436.23,168.44 L436.51,166.68 L436.79,164.87 L437.07,163.00 L437.36,161.07 L437.64,159.08 L437.92,157.03 L438.20,154.91 L438.48,152.73 L438.76,150.49 L439.04,148.17 L439.32,145.79 L439.60,143.34 L439.89,140.82 L440.17,138.23 L440.45,135.58 L440.73,132.85 L441.01,130.06 L441.29,127.20 L441.57,124.28 L441.85,121.29 L442.14,118.25 L442.42,115.15 L442.70,112.00 L442.98,108.81 L443.26,105.57 L443.54,102.30 L443.82,99.01 L444.10,95.70 L444.38,92.38 L444.67,89.07 L444.95,85.77 L445.23,82.51 L445.51,79.28 L445.79,76.11 L446.07,73.02 L446.35,70.01 L446.63,67.11 L446.91,64.33 L447.20,61.69 L447.48,59.21 L447.76,56.90 L448.04,54.78 L448.32,52.87 L448.60,51.19 L448.88,49.73 L449.16,48.53 L449.44,47.58 L449.73,46.89 L450.01,46.48 L450.29,46.34 L450.57,46.52 L450.85,47.06 L451.13,47.95 L451.41,49.18 L451.69,50.74 L451.97,52.61 L452.26,54.77 L452.54,57.20 L452.82,59.88 L453.10,62.78 L453.38,65.87 L453.66,69.14 L453.94,72.55 L454.22,76.07 L454.50,79.70 L454.79,83.39 L455.07,87.13 L455.35,90.91 L455.63,94.70 L455.91,98.48 L456.19,102.24 L456.47,105.97 L456.75,109.66 L457.03,113.29 L457.32,116.86 L457.60,120.36 L457.88,123.78 L458.16,127.13 L458.44,130.39 L458.72,133.57 L459.00,136.65 L459.28,139.65 L459.56,142.56 L459.85,145.37 L460.13,148.10 L460.41,150.74 L460.69,153.29 L460.97,155.76 L461.25,158.14 L461.53,160.44 L461.81,162.66 L462.09,164.80 L462.38,166.87 L462.66,168.87 L462.94,170.79 L463.22,172.64 L463.50,174.43 L463.78,176.15 L464.06,177.82 L464.34,179.42 L464.63,180.97 L464.91,182.46 L465.19,183.90 L465.47,185.28 L465.75,186.62 L466.03,187.91 L466.31,189.16 L466.59,190.36 L466.87,191.52 L467.16,192.64 L467.44,193.72 L467.72,194.77 L468.00,195.78 L468.28,196.75 L468.56,197.69 L468.84,198.61 L469.12,199.49 L469.40,200.34 L469.69,201.16 L469.97,201.96 L470.25,202.73 L470.53,203.48 L470.81,204.20 L471.09,204.90 L471.37,205.58 L471.65,206.24 L471.93,206.88 L472.22,207.49 L472.50,208.09 L472.78,208.67 L473.06,209.24 L473.34,209.78 L473.62,210.31 L473.90,210.83 L474.18,211.33 L474.46,211.81 L474.75,212.29 L475.03,212.74 L475.31,213.19 L475.59,213.62 L475.87,214.04 L476.15,214.45 L476.43,214.85 L476.71,215.23 L476.99,215.61 L477.28,215.98 L477.56,216.33 L477.84,216.68 L478.12,217.02 L478.40,217.35 L478.68,217.67 L478.96,217.98 L479.24,218.29 L479.52,218.58 L479.81,218.87 L480.09,219.15 L480.37,219.43 L480.65,219.70 L480.93,219.96 L481.21,220.22 L481.49,220.46 L481.77,220.71 L482.05,220.95 L482.34,221.18 L482.62,221.40 L482.90,221.63 L483.18,221.84 L483.46,222.05 L483.74,222.26 L484.02,222.46 L484.30,222.66 L484.58,222.85 L484.87,223.04 L485.15,223.22 L485.43,223.40 L485.71,223.58 L485.99,223.75 L486.27,223.92 L486.55,224.09 L486.83,224.25 L487.12,224.41 L487.40,224.56 L487.68,224.71 L487.96,224.86 L488.24,225.01 L488.52,225.15 L488.80,225.29 L489.08,225.43 L489.36,225.56 L489.65,225.69 L489.93,225.82 L490.21,225.95 L490.49,226.07 L490.77,226.20 L491.05,226.31 L491.33,226.43 L491.61,226.55 L491.89,226.66 L492.18,226.77 L492.46,226.88 L492.74,226.98 L493.02,227.09 L493.30,227.19 L493.58,227.29 L493.86,227.39 L494.14,227.49 L494.42,227.58 L494.71,227.67 L494.99,227.77 L495.27,227.86 L495.55,227.95 L495.83,228.03 L496.11,228.12 L496.39,228.20 L496.67,228.28 L496.95,228.37 L497.24,228.45 L497.52,228.52 L497.80,228.60 L498.08,228.68 L498.36,228.75 L498.64,228.82 L498.92,228.90 L499.20,228.97 L499.48,229.04 L499.77,229.11 L500.05,229.17 L500.33,229.24 L500.61,229.31 L500.89,229.37 L501.17,229.43 L501.45,229.50 L501.73,229.56 L502.01,229.62 L502.30,229.68 L502.58,229.74 L502.86,229.79 L503.14,229.85 L503.42,229.91 L503.70,229.96 L503.98,230.01 L504.26,230.07 L504.54,230.12 L504.83,230.17 L505.11,230.22 L505.39,230.27 L505.67,230.32 L505.95,230.37 L506.23,230.42 L506.51,230.47 L506.79,230.51 L507.07,230.56" fill="none" stroke="#f26e2e" stroke-width="2.8" stroke-linejoin="round"/>
<path d="M450.85,228.92 L451.13,228.86 L451.41,228.80 L451.69,228.73 L451.97,228.67 L452.26,228.60 L452.54,228.53 L452.82,228.47 L453.10,228.40 L453.38,228.33 L453.66,228.25 L453.94,228.18 L454.22,228.11 L454.50,228.03 L454.79,227.96 L455.07,227.88 L455.35,227.80 L455.63,227.72 L455.91,227.64 L456.19,227.56 L456.47,227.47 L456.75,227.39 L457.03,227.30 L457.32,227.21 L457.60,227.13 L457.88,227.03 L458.16,226.94 L458.44,226.85 L458.72,226.75 L459.00,226.66 L459.28,226.56 L459.56,226.46 L459.85,226.36 L460.13,226.25 L460.41,226.15 L460.69,226.04 L460.97,225.93 L461.25,225.82 L461.53,225.71 L461.81,225.59 L462.09,225.48 L462.38,225.36 L462.66,225.24 L462.94,225.11 L463.22,224.99 L463.50,224.86 L463.78,224.73 L464.06,224.60 L464.34,224.46 L464.63,224.32 L464.91,224.18 L465.19,224.04 L465.47,223.90 L465.75,223.75 L466.03,223.60 L466.31,223.44 L466.59,223.29 L466.87,223.13 L467.16,222.96 L467.44,222.80 L467.72,222.63 L468.00,222.45 L468.28,222.28 L468.56,222.10 L468.84,221.91 L469.12,221.73 L469.40,221.54 L469.69,221.34 L469.97,221.14 L470.25,220.94 L470.53,220.73 L470.81,220.52 L471.09,220.30 L471.37,220.08 L471.65,219.85 L471.93,219.62 L472.22,219.38 L472.50,219.14 L472.78,218.90 L473.06,218.64 L473.34,218.39 L473.62,218.12 L473.90,217.85 L474.18,217.57 L474.46,217.29 L474.75,217.00 L475.03,216.71 L475.31,216.40 L475.59,216.09 L475.87,215.78 L476.15,215.45 L476.43,215.12 L476.71,214.78 L476.99,214.43 L477.28,214.07 L477.56,213.70 L477.84,213.33 L478.12,212.94 L478.40,212.55 L478.68,212.14 L478.96,211.73 L479.24,211.30 L479.52,210.86 L479.81,210.41 L480.09,209.95 L480.37,209.48 L480.65,208.99 L480.93,208.49 L481.21,207.98 L481.49,207.45 L481.77,206.91 L482.05,206.36 L482.34,205.79 L482.62,205.20 L482.90,204.60 L483.18,203.98 L483.46,203.34 L483.74,202.68 L484.02,202.00 L484.30,201.31 L484.58,200.59 L484.87,199.85 L485.15,199.10 L485.43,198.31 L485.71,197.51 L485.99,196.68 L486.27,195.82 L486.55,194.94 L486.83,194.04 L487.12,193.10 L487.40,192.14 L487.68,191.14 L487.96,190.12 L488.24,189.06 L488.52,187.97 L488.80,186.84 L489.08,185.68 L489.36,184.48 L489.65,183.24 L489.93,181.96 L490.21,180.65 L490.49,179.28 L490.77,177.88 L491.05,176.43 L491.33,174.93 L491.61,173.39 L491.89,171.79 L492.18,170.14 L492.46,168.44 L492.74,166.68 L493.02,164.87 L493.30,163.00 L493.58,161.07 L493.86,159.08 L494.14,157.03 L494.42,154.91 L494.71,152.73 L494.99,150.49 L495.27,148.17 L495.55,145.79 L495.83,143.34 L496.11,140.82 L496.39,138.23 L496.67,135.58 L496.95,132.85 L497.24,130.06 L497.52,127.20 L497.80,124.28 L498.08,121.29 L498.36,118.25 L498.64,115.15 L498.92,112.00 L499.20,108.81 L499.48,105.57 L499.77,102.30 L500.05,99.01 L500.33,95.70 L500.61,92.38 L500.89,89.07 L501.17,85.77 L501.45,82.51 L501.73,79.28 L502.01,76.11 L502.30,73.02 L502.58,70.01 L502.86,67.11 L503.14,64.33 L503.42,61.69 L503.70,59.21 L503.98,56.90 L504.26,54.78 L504.54,52.87 L504.83,51.19 L505.11,49.73 L505.39,48.53 L505.67,47.58 L505.95,46.89 L506.23,46.48 L506.51,46.34 L506.79,46.52 L507.07,47.06 L507.36,47.95 L507.64,49.18 L507.92,50.74 L508.20,52.61 L508.48,54.77 L508.76,57.20 L509.04,59.88 L509.32,62.78 L509.61,65.87 L509.89,69.14 L510.17,72.55 L510.45,76.07 L510.73,79.70 L511.01,83.39 L511.29,87.13 L511.57,90.91 L511.85,94.70 L512.14,98.48 L512.42,102.24 L512.70,105.97 L512.98,109.66 L513.26,113.29 L513.54,116.86 L513.82,120.36 L514.10,123.78 L514.38,127.13 L514.67,130.39 L514.95,133.57 L515.23,136.65 L515.51,139.65 L515.79,142.56 L516.07,145.37 L516.35,148.10 L516.63,150.74 L516.91,153.29 L517.20,155.76 L517.48,158.14 L517.76,160.44 L518.04,162.66 L518.32,164.80 L518.60,166.87 L518.88,168.87 L519.16,170.79 L519.44,172.64 L519.73,174.43 L520.01,176.15 L520.29,177.82 L520.57,179.42 L520.85,180.97 L521.13,182.46 L521.41,183.90 L521.69,185.28 L521.97,186.62 L522.26,187.91 L522.54,189.16 L522.82,190.36 L523.10,191.52 L523.38,192.64 L523.66,193.72 L523.94,194.77 L524.22,195.78 L524.50,196.75 L524.79,197.69 L525.07,198.61 L525.35,199.49 L525.63,200.34 L525.91,201.16 L526.19,201.96 L526.47,202.73 L526.75,203.48 L527.03,204.20 L527.32,204.90 L527.60,205.58 L527.88,206.24 L528.16,206.88 L528.44,207.49 L528.72,208.09 L529.00,208.67 L529.28,209.24 L529.56,209.78 L529.85,210.31 L530.13,210.83 L530.41,211.33 L530.69,211.81 L530.97,212.29 L531.25,212.74 L531.53,213.19 L531.81,213.62 L532.10,214.04 L532.38,214.45 L532.66,214.85 L532.94,215.23 L533.22,215.61 L533.50,215.98 L533.78,216.33 L534.06,216.68 L534.34,217.02 L534.63,217.35 L534.91,217.67 L535.19,217.98 L535.47,218.29 L535.75,218.58 L536.03,218.87 L536.31,219.15 L536.59,219.43 L536.87,219.70 L537.16,219.96 L537.44,220.22 L537.72,220.46 L538.00,220.71 L538.28,220.95 L538.56,221.18 L538.84,221.40 L539.12,221.63 L539.40,221.84 L539.69,222.05 L539.97,222.26 L540.25,222.46 L540.53,222.66 L540.81,222.85 L541.09,223.04 L541.37,223.22 L541.65,223.40 L541.93,223.58 L542.22,223.75 L542.50,223.92 L542.78,224.09 L543.06,224.25 L543.34,224.41 L543.62,224.56 L543.90,224.71 L544.18,224.86 L544.46,225.01 L544.75,225.15 L545.03,225.29 L545.31,225.43 L545.59,225.56 L545.87,225.69 L546.15,225.82 L546.43,225.95 L546.71,226.07 L546.99,226.20 L547.28,226.31 L547.56,226.43 L547.84,226.55 L548.12,226.66 L548.40,226.77 L548.68,226.88 L548.96,226.98 L549.24,227.09 L549.52,227.19 L549.81,227.29 L550.09,227.39 L550.37,227.49 L550.65,227.58 L550.93,227.67 L551.21,227.77 L551.49,227.86 L551.77,227.95 L552.05,228.03 L552.34,228.12 L552.62,228.20 L552.90,228.28 L553.18,228.37 L553.46,228.45 L553.74,228.52 L554.02,228.60 L554.30,228.68 L554.59,228.75 L554.87,228.82 L555.15,228.90 L555.43,228.97 L555.71,229.04 L555.99,229.11 L556.27,229.17 L556.55,229.24 L556.83,229.31 L557.12,229.37 L557.40,229.43 L557.68,229.50 L557.96,229.56 L558.24,229.62 L558.52,229.68 L558.80,229.74 L559.08,229.79 L559.36,229.85 L559.65,229.91 L559.93,229.96 L560.21,230.01 L560.49,230.07 L560.77,230.12 L561.05,230.17 L561.33,230.22 L561.61,230.27 L561.89,230.32 L562.18,230.37 L562.46,230.42 L562.74,230.47 L563.02,230.51 L563.30,230.56" fill="none" stroke="#ee1010" stroke-width="2.8" stroke-linejoin="round"/>
<rect x="113.5" y="261.2" width="448.20000000000005" height="143.2" fill="none" stroke="#4e4e4e" stroke-width="1"/>
<path d="M169.53,404.4 v-4.5 M169.53,261.2 v4.5" stroke="#4e4e4e" stroke-width="1"/>
<path d="M281.58,404.4 v-4.5 M281.58,261.2 v4.5" stroke="#4e4e4e" stroke-width="1"/>
<path d="M393.63,404.4 v-4.5 M393.63,261.2 v4.5" stroke="#4e4e4e" stroke-width="1"/>
<path d="M505.68,404.4 v-4.5 M505.68,261.2 v4.5" stroke="#4e4e4e" stroke-width="1"/>
<path d="M113.5,297.00 h4.5 M561.7,297.00 h-4.5" stroke="#4e4e4e" stroke-width="1"/>
<path d="M113.5,332.80 h4.5 M561.7,332.80 h-4.5" stroke="#4e4e4e" stroke-width="1"/>
<path d="M113.5,368.60 h4.5 M561.7,368.60 h-4.5" stroke="#4e4e4e" stroke-width="1"/>
<path d="M113.5,303.9 H588.5" stroke="#7a7a7a" stroke-width="1.3" stroke-dasharray="4.7 1.8 1.2 2"/>
<path d="M113.5,371.8 H588.5" stroke="#7a7a7a" stroke-width="1.3" stroke-dasharray="4.7 1.8 1.2 2"/>
<path d="M134.10,404.40 L134.25,404.38 L134.40,404.36 L134.55,404.33 L134.71,404.31 L134.86,404.29 L135.01,404.26 L135.16,404.24 L135.31,404.22 L135.46,404.19 L135.61,404.17 L135.77,404.15 L135.92,404.12 L136.07,404.10 L136.22,404.07 L136.37,404.05 L136.52,404.02 L136.68,404.00 L136.83,403.97 L136.98,403.95 L137.13,403.92 L137.28,403.89 L137.43,403.87 L137.58,403.84 L137.74,403.81 L137.89,403.79 L138.04,403.76 L138.19,403.73 L138.34,403.70 L138.49,403.67 L138.64,403.65 L138.80,403.62 L138.95,403.59 L139.10,403.56 L139.25,403.53 L139.40,403.50 L139.55,403.47 L139.71,403.44 L139.86,403.41 L140.01,403.38 L140.16,403.35 L140.31,403.32 L140.46,403.28 L140.61,403.25 L140.77,403.22 L140.92,403.19 L141.07,403.15 L141.22,403.12 L141.37,403.09 L141.52,403.05 L141.67,403.02 L141.83,402.98 L141.98,402.95 L142.13,402.91 L142.28,402.88 L142.43,402.84 L142.58,402.80 L142.74,402.77 L142.89,402.73 L143.04,402.69 L143.19,402.65 L143.34,402.62 L143.49,402.58 L143.64,402.54 L143.80,402.50 L143.95,402.46 L144.10,402.42 L144.25,402.38 L144.40,402.34 L144.55,402.29 L144.70,402.25 L144.86,402.21 L145.01,402.17 L145.16,402.12 L145.31,402.08 L145.46,402.03 L145.61,401.99 L145.77,401.94 L145.92,401.90 L146.07,401.85 L146.22,401.80 L146.37,401.75 L146.52,401.70 L146.67,401.66 L146.83,401.61 L146.98,401.56 L147.13,401.51 L147.28,401.45 L147.43,401.40 L147.58,401.35 L147.73,401.30 L147.89,401.24 L148.04,401.19 L148.19,401.13 L148.34,401.08 L148.49,401.02 L148.64,400.96 L148.80,400.90 L148.95,400.85 L149.10,400.79 L149.25,400.73 L149.40,400.66 L149.55,400.60 L149.70,400.54 L149.86,400.48 L150.01,400.41 L150.16,400.35 L150.31,400.28 L150.46,400.21 L150.61,400.15 L150.76,400.08 L150.92,400.01 L151.07,399.94 L151.22,399.86 L151.37,399.79 L151.52,399.72 L151.67,399.64 L151.83,399.57 L151.98,399.49 L152.13,399.41 L152.28,399.33 L152.43,399.25 L152.58,399.17 L152.73,399.09 L152.89,399.01 L153.04,398.92 L153.19,398.83 L153.34,398.75 L153.49,398.66 L153.64,398.57 L153.79,398.48 L153.95,398.38 L154.10,398.29 L154.25,398.19 L154.40,398.09 L154.55,398.00 L154.70,397.89 L154.86,397.79 L155.01,397.69 L155.16,397.58 L155.31,397.48 L155.46,397.37 L155.61,397.26 L155.76,397.14 L155.92,397.03 L156.07,396.91 L156.22,396.79 L156.37,396.67 L156.52,396.55 L156.67,396.43 L156.82,396.30 L156.98,396.17 L157.13,396.04 L157.28,395.91 L157.43,395.77 L157.58,395.63 L157.73,395.49 L157.89,395.35 L158.04,395.20 L158.19,395.05 L158.34,394.90 L158.49,394.75 L158.64,394.59 L158.79,394.43 L158.95,394.27 L159.10,394.10 L159.25,393.93 L159.40,393.76 L159.55,393.58 L159.70,393.40 L159.85,393.22 L160.01,393.03 L160.16,392.84 L160.31,392.65 L160.46,392.45 L160.61,392.25 L160.76,392.05 L160.92,391.84 L161.07,391.62 L161.22,391.40 L161.37,391.18 L161.52,390.95 L161.67,390.72 L161.82,390.48 L161.98,390.24 L162.13,389.99 L162.28,389.74 L162.43,389.48 L162.58,389.22 L162.73,388.95 L162.88,388.67 L163.04,388.39 L163.19,388.10 L163.34,387.81 L163.49,387.51 L163.64,387.20 L163.79,386.88 L163.95,386.56 L164.10,386.23 L164.25,385.89 L164.40,385.55 L164.55,385.19 L164.70,384.83 L164.85,384.46 L165.01,384.08 L165.16,383.69 L165.31,383.29 L165.46,382.87 L165.61,382.45 L165.76,382.01 L165.91,381.57 L166.07,381.11 L166.22,380.63 L166.37,380.14 L166.52,379.63 L166.67,379.11 L166.82,378.56 L166.98,377.99 L167.13,377.40 L167.28,376.78 L167.43,376.13 L167.58,375.44 L167.73,374.71 L167.88,373.94 L168.04,373.10 L168.19,372.20 L168.34,371.21 L168.49,370.11 L168.64,368.88 L168.79,367.47 L168.94,365.83 L169.10,363.89 L169.25,361.52 L169.40,358.58 L169.55,354.86 L169.70,350.16 L169.85,344.42 L170.01,337.96 L170.16,331.53 L170.31,325.85 L170.46,321.23 L170.61,317.58 L170.76,314.68 L170.91,312.35 L171.07,310.43 L171.22,308.81 L171.37,307.42 L171.52,306.20 L171.67,305.11 L171.82,304.13 L171.97,303.23 L172.13,302.40 L172.28,301.62 L172.43,300.90 L172.58,300.22 L172.73,299.57 L172.88,298.95 L173.04,298.36 L173.19,297.79 L173.34,297.25 L173.49,296.72 L173.64,296.22 L173.79,295.73 L173.94,295.25 L174.10,294.79 L174.25,294.35 L174.40,293.91 L174.55,293.49 L174.70,293.08 L174.85,292.68 L175.00,292.29 L175.16,291.91 L175.31,291.54 L175.46,291.17 L175.61,290.82 L175.76,290.48 L175.91,290.14 L176.07,289.81 L176.22,289.49 L176.37,289.17 L176.52,288.87 L176.67,288.56 L176.82,288.27 L176.97,287.98 L177.13,287.70 L177.28,287.43 L177.43,287.16 L177.58,286.89 L177.73,286.64 L177.88,286.38 L178.03,286.14 L178.19,285.89 L178.34,285.66 L178.49,285.42 L178.64,285.20 L178.79,284.97 L178.94,284.76 L179.10,284.54 L179.25,284.33 L179.40,284.13 L179.55,283.93 L179.70,283.73 L179.85,283.53 L180.00,283.34 L180.16,283.16 L180.31,282.98 L180.46,282.80 L180.61,282.62 L180.76,282.45 L180.91,282.28 L181.06,282.11 L181.22,281.95 L181.37,281.79 L181.52,281.63 L181.67,281.48 L181.82,281.33 L181.97,281.18 L182.13,281.04 L182.28,280.89 L182.43,280.75 L182.58,280.61 L182.73,280.48 L182.88,280.34 L183.03,280.21 L183.19,280.08 L183.34,279.96 L183.49,279.83 L183.64,279.71 L183.79,279.59 L183.94,279.47 L184.09,279.36 L184.25,279.24 L184.40,279.13 L184.55,279.02 L184.70,278.91 L184.85,278.80 L185.00,278.70 L185.16,278.59 L185.31,278.49 L185.46,278.39 L185.61,278.29 L185.76,278.19 L185.91,278.10 L186.06,278.00 L186.22,277.91 L186.37,277.82 L186.52,277.73 L186.67,277.64 L186.82,277.55 L186.97,277.47 L187.12,277.38 L187.28,277.30 L187.43,277.21 L187.58,277.13 L187.73,277.05 L187.88,276.97 L188.03,276.90 L188.19,276.82 L188.34,276.74 L188.49,276.67 L188.64,276.60 L188.79,276.52 L188.94,276.45 L189.09,276.38 L189.25,276.31 L189.40,276.24 L189.55,276.17 L189.70,276.11 L189.85,276.04 L190.00,275.98 L190.16,275.91 L190.31,275.85 L190.46,275.79 L190.61,275.72 L190.76,275.66 L190.91,275.60 L191.06,275.54 L191.22,275.48 L191.37,275.43 L191.52,275.37 L191.67,275.31 L191.82,275.26 L191.97,275.20 L192.12,275.15 L192.28,275.09 L192.43,275.04 L192.58,274.99 L192.73,274.94 L192.88,274.88 L193.03,274.83 L193.19,274.78 L193.34,274.73 L193.49,274.68 L193.64,274.64 L193.79,274.59 L193.94,274.54 L194.09,274.49 L194.25,274.45 L194.40,274.40 L194.55,274.36 L194.70,274.31 L194.85,274.27 L195.00,274.22 L195.15,274.18 L195.31,274.14 L195.46,274.10 L195.61,274.05 L195.76,274.01 L195.91,273.97 L196.06,273.93 L196.22,273.89 L196.37,273.85 L196.52,273.81 L196.67,273.77 L196.82,273.74 L196.97,273.70 L197.12,273.66 L197.28,273.62 L197.43,273.59 L197.58,273.55 L197.73,273.51 L197.88,273.48 L198.03,273.44 L198.18,273.41 L198.34,273.37 L198.49,273.34 L198.64,273.30 L198.79,273.27 L198.94,273.24 L199.09,273.20 L199.25,273.17 L199.40,273.14 L199.55,273.11 L199.70,273.07 L199.85,273.04 L200.00,273.01 L200.15,272.98 L200.31,272.95 L200.46,272.92 L200.61,272.89 L200.76,272.86 L200.91,272.83 L201.06,272.80 L201.21,272.77 L201.37,272.74 L201.52,272.72 L201.67,272.69 L201.82,272.66 L201.97,272.63 L202.12,272.60 L202.27,272.58 L202.43,272.55 L202.58,272.52 L202.73,272.50 L202.88,272.47 L203.03,272.45 L203.18,272.42 L203.34,272.39 L203.49,272.37 L203.64,272.34 L203.79,272.32 L203.94,272.29 L204.09,272.27 L204.24,272.25 L204.40,272.22 L204.55,272.20 L204.70,272.17 L204.85,272.15 L205.00,272.13 L205.15,272.10 L205.31,272.08 L205.46,272.06 L205.61,272.04 L205.76,272.01 L205.91,271.99 L206.06,271.97 L206.21,271.95 L206.37,271.93 L206.52,271.90 L206.67,271.88 L206.82,271.86 L206.97,271.84 L207.12,271.82 L207.27,271.80 L207.43,271.78 L207.58,271.76 L207.73,271.74 L207.88,271.72 L208.03,271.70 L208.18,271.68 L208.33,271.66 L208.49,271.64 L208.64,271.62 L208.79,271.60 L208.94,271.58 L209.09,271.56 L209.24,271.55 L209.40,271.53 L209.55,271.51 L209.70,271.49 L209.85,271.47 L210.00,271.45 L210.15,271.44 L210.30,271.42 L210.46,271.40 L210.61,271.38 L210.76,271.37 L210.91,271.35 L211.06,271.33 L211.21,271.31 L211.37,271.30 L211.52,271.28 L211.67,271.26 L211.82,271.25 L211.97,271.23 L212.12,271.21 L212.27,271.20 L212.43,271.18 L212.58,271.17 L212.73,271.15 L212.88,271.14 L213.03,271.12 L213.18,271.10 L213.33,271.09 L213.49,271.07 L213.64,271.06 L213.79,271.04 L213.94,271.03 L214.09,271.01 L214.24,271.00 L214.39,270.98 L214.55,270.97 L214.70,270.95 L214.85,270.94 L215.00,270.93 L215.15,270.91 L215.30,270.90 L215.46,270.88 L215.61,270.87 L215.76,270.86 L215.91,270.84 L216.06,270.83 L216.21,270.81 L216.36,270.80 L216.52,270.79 L216.67,270.77 L216.82,270.76 L216.97,270.75 L217.12,270.73 L217.27,270.72 L217.43,270.71 L217.58,270.70 L217.73,270.68 L217.88,270.67 L218.03,270.66 L218.18,270.64 L218.33,270.63 L218.49,270.62 L218.64,270.61 L218.79,270.60 L218.94,270.58 L219.09,270.57 L219.24,270.56 L219.39,270.55 L219.55,270.54 L219.70,270.52 L219.85,270.51 L220.00,270.50 L220.15,270.49 L220.30,270.48 L220.45,270.47 L220.61,270.45 L220.76,270.44 L220.91,270.43 L221.06,270.42 L221.21,270.41 L221.36,270.40 L221.52,270.39 L221.67,270.38 L221.82,270.37 L221.97,270.35 L222.12,270.34 L222.27,270.33 L222.42,270.32 L222.58,270.31 L222.73,270.30 L222.88,270.29 L223.03,270.28 L223.18,270.27 L223.33,270.26 L223.49,270.25 L223.64,270.24 L223.79,270.23 L223.94,270.22 L224.09,270.21 L224.24,270.20 L224.39,270.19 L224.55,270.18 L224.70,270.17 L224.85,270.16 L225.00,270.15" fill="none" stroke="#9a10cc" stroke-width="2.8" stroke-linejoin="round"/>
<path d="M179.50,404.40 L179.67,404.39 L179.84,404.37 L180.01,404.36 L180.18,404.34 L180.35,404.33 L180.51,404.31 L180.68,404.30 L180.85,404.28 L181.02,404.27 L181.19,404.25 L181.36,404.24 L181.53,404.22 L181.70,404.20 L181.87,404.19 L182.04,404.17 L182.21,404.16 L182.38,404.14 L182.54,404.12 L182.71,404.11 L182.88,404.09 L183.05,404.07 L183.22,404.06 L183.39,404.04 L183.56,404.02 L183.73,404.01 L183.90,403.99 L184.07,403.97 L184.24,403.95 L184.41,403.94 L184.57,403.92 L184.74,403.90 L184.91,403.88 L185.08,403.87 L185.25,403.85 L185.42,403.83 L185.59,403.81 L185.76,403.79 L185.93,403.77 L186.10,403.75 L186.27,403.73 L186.44,403.72 L186.60,403.70 L186.77,403.68 L186.94,403.66 L187.11,403.64 L187.28,403.62 L187.45,403.60 L187.62,403.58 L187.79,403.56 L187.96,403.54 L188.13,403.52 L188.30,403.49 L188.47,403.47 L188.63,403.45 L188.80,403.43 L188.97,403.41 L189.14,403.39 L189.31,403.37 L189.48,403.34 L189.65,403.32 L189.82,403.30 L189.99,403.28 L190.16,403.25 L190.33,403.23 L190.50,403.21 L190.66,403.18 L190.83,403.16 L191.00,403.14 L191.17,403.11 L191.34,403.09 L191.51,403.06 L191.68,403.04 L191.85,403.01 L192.02,402.99 L192.19,402.96 L192.36,402.94 L192.53,402.91 L192.69,402.89 L192.86,402.86 L193.03,402.83 L193.20,402.81 L193.37,402.78 L193.54,402.75 L193.71,402.73 L193.88,402.70 L194.05,402.67 L194.22,402.64 L194.39,402.62 L194.56,402.59 L194.72,402.56 L194.89,402.53 L195.06,402.50 L195.23,402.47 L195.40,402.44 L195.57,402.41 L195.74,402.38 L195.91,402.35 L196.08,402.32 L196.25,402.29 L196.42,402.25 L196.59,402.22 L196.75,402.19 L196.92,402.16 L197.09,402.13 L197.26,402.09 L197.43,402.06 L197.60,402.02 L197.77,401.99 L197.94,401.96 L198.11,401.92 L198.28,401.89 L198.45,401.85 L198.62,401.81 L198.78,401.78 L198.95,401.74 L199.12,401.70 L199.29,401.67 L199.46,401.63 L199.63,401.59 L199.80,401.55 L199.97,401.51 L200.14,401.47 L200.31,401.43 L200.48,401.39 L200.65,401.35 L200.81,401.31 L200.98,401.27 L201.15,401.23 L201.32,401.19 L201.49,401.14 L201.66,401.10 L201.83,401.06 L202.00,401.01 L202.17,400.97 L202.34,400.92 L202.51,400.87 L202.68,400.83 L202.84,400.78 L203.01,400.73 L203.18,400.69 L203.35,400.64 L203.52,400.59 L203.69,400.54 L203.86,400.49 L204.03,400.44 L204.20,400.39 L204.37,400.33 L204.54,400.28 L204.71,400.23 L204.88,400.17 L205.04,400.12 L205.21,400.06 L205.38,400.01 L205.55,399.95 L205.72,399.89 L205.89,399.83 L206.06,399.77 L206.23,399.71 L206.40,399.65 L206.57,399.59 L206.74,399.53 L206.91,399.47 L207.07,399.40 L207.24,399.34 L207.41,399.27 L207.58,399.21 L207.75,399.14 L207.92,399.07 L208.09,399.00 L208.26,398.93 L208.43,398.86 L208.60,398.79 L208.77,398.72 L208.94,398.64 L209.10,398.57 L209.27,398.49 L209.44,398.41 L209.61,398.34 L209.78,398.26 L209.95,398.18 L210.12,398.10 L210.29,398.01 L210.46,397.93 L210.63,397.84 L210.80,397.76 L210.97,397.67 L211.13,397.58 L211.30,397.49 L211.47,397.40 L211.64,397.30 L211.81,397.21 L211.98,397.11 L212.15,397.01 L212.32,396.91 L212.49,396.81 L212.66,396.71 L212.83,396.61 L213.00,396.50 L213.16,396.39 L213.33,396.28 L213.50,396.17 L213.67,396.06 L213.84,395.95 L214.01,395.83 L214.18,395.71 L214.35,395.59 L214.52,395.47 L214.69,395.34 L214.86,395.22 L215.03,395.09 L215.19,394.95 L215.36,394.82 L215.53,394.68 L215.70,394.55 L215.87,394.41 L216.04,394.26 L216.21,394.12 L216.38,393.97 L216.55,393.82 L216.72,393.66 L216.89,393.50 L217.06,393.34 L217.22,393.18 L217.39,393.01 L217.56,392.85 L217.73,392.67 L217.90,392.50 L218.07,392.32 L218.24,392.14 L218.41,391.95 L218.58,391.76 L218.75,391.57 L218.92,391.37 L219.09,391.17 L219.25,390.96 L219.42,390.75 L219.59,390.54 L219.76,390.32 L219.93,390.10 L220.10,389.87 L220.27,389.64 L220.44,389.40 L220.61,389.16 L220.78,388.92 L220.95,388.66 L221.12,388.41 L221.28,388.14 L221.45,387.88 L221.62,387.60 L221.79,387.32 L221.96,387.04 L222.13,386.74 L222.30,386.45 L222.47,386.14 L222.64,385.83 L222.81,385.51 L222.98,385.18 L223.15,384.85 L223.31,384.51 L223.48,384.16 L223.65,383.80 L223.82,383.43 L223.99,383.06 L224.16,382.67 L224.33,382.28 L224.50,381.87 L224.67,381.45 L224.84,381.03 L225.01,380.59 L225.18,380.13 L225.34,379.67 L225.51,379.19 L225.68,378.69 L225.85,378.18 L226.02,377.64 L226.19,377.09 L226.36,376.51 L226.53,375.91 L226.70,375.27 L226.87,374.60 L227.04,373.89 L227.20,373.13 L227.37,372.32 L227.54,371.43 L227.71,370.46 L227.88,369.37 L228.05,368.15 L228.22,366.74 L228.39,365.08 L228.56,363.08 L228.73,360.59 L228.90,357.41 L229.07,353.27 L229.24,347.89 L229.40,341.26 L229.57,334.01 L229.74,327.24 L229.91,321.69 L230.08,317.39 L230.25,314.11 L230.42,311.54 L230.59,309.48 L230.76,307.78 L230.93,306.34 L231.10,305.10 L231.26,304.00 L231.43,303.01 L231.60,302.11 L231.77,301.29 L231.94,300.52 L232.11,299.81 L232.28,299.13 L232.45,298.49 L232.62,297.89 L232.79,297.30 L232.96,296.75 L233.13,296.21 L233.30,295.69 L233.46,295.19 L233.63,294.71 L233.80,294.24 L233.97,293.79 L234.14,293.35 L234.31,292.92 L234.48,292.50 L234.65,292.09 L234.82,291.70 L234.99,291.31 L235.16,290.93 L235.32,290.57 L235.49,290.21 L235.66,289.86 L235.83,289.51 L236.00,289.18 L236.17,288.85 L236.34,288.53 L236.51,288.22 L236.68,287.91 L236.85,287.61 L237.02,287.32 L237.19,287.03 L237.35,286.75 L237.52,286.48 L237.69,286.21 L237.86,285.94 L238.03,285.69 L238.20,285.43 L238.37,285.19 L238.54,284.94 L238.71,284.71 L238.88,284.48 L239.05,284.25 L239.22,284.02 L239.38,283.81 L239.55,283.59 L239.72,283.38 L239.89,283.18 L240.06,282.97 L240.23,282.78 L240.40,282.58 L240.57,282.39 L240.74,282.21 L240.91,282.02 L241.08,281.84 L241.25,281.67 L241.41,281.49 L241.58,281.32 L241.75,281.16 L241.92,280.99 L242.09,280.83 L242.26,280.68 L242.43,280.52 L242.60,280.37 L242.77,280.22 L242.94,280.07 L243.11,279.93 L243.28,279.79 L243.44,279.65 L243.61,279.51 L243.78,279.38 L243.95,279.25 L244.12,279.12 L244.29,278.99 L244.46,278.87 L244.63,278.74 L244.80,278.62 L244.97,278.50 L245.14,278.39 L245.31,278.27 L245.47,278.16 L245.64,278.05 L245.81,277.94 L245.98,277.83 L246.15,277.72 L246.32,277.62 L246.49,277.52 L246.66,277.41 L246.83,277.32 L247.00,277.22 L247.17,277.12 L247.34,277.03 L247.50,276.93 L247.67,276.84 L247.84,276.75 L248.01,276.66 L248.18,276.57 L248.35,276.49 L248.52,276.40 L248.69,276.32 L248.86,276.23 L249.03,276.15 L249.20,276.07 L249.37,275.99 L249.53,275.91 L249.70,275.83 L249.87,275.76 L250.04,275.68 L250.21,275.61 L250.38,275.54 L250.55,275.46 L250.72,275.39 L250.89,275.32 L251.06,275.25 L251.23,275.19 L251.40,275.12 L251.56,275.05 L251.73,274.99 L251.90,274.92 L252.07,274.86 L252.24,274.79 L252.41,274.73 L252.58,274.67 L252.75,274.61 L252.92,274.55 L253.09,274.49 L253.26,274.43 L253.43,274.37 L253.59,274.32 L253.76,274.26 L253.93,274.21 L254.10,274.15 L254.27,274.10 L254.44,274.04 L254.61,273.99 L254.78,273.94 L254.95,273.89 L255.12,273.84 L255.29,273.78 L255.46,273.74 L255.62,273.69 L255.79,273.64 L255.96,273.59 L256.13,273.54 L256.30,273.49 L256.47,273.45 L256.64,273.40 L256.81,273.36 L256.98,273.31 L257.15,273.27 L257.32,273.22 L257.49,273.18 L257.65,273.14 L257.82,273.09 L257.99,273.05 L258.16,273.01 L258.33,272.97 L258.50,272.93 L258.67,272.89 L258.84,272.85 L259.01,272.81 L259.18,272.77 L259.35,272.73 L259.52,272.69 L259.69,272.65 L259.85,272.62 L260.02,272.58 L260.19,272.54 L260.36,272.51 L260.53,272.47 L260.70,272.44 L260.87,272.40 L261.04,272.36 L261.21,272.33 L261.38,272.30 L261.55,272.26 L261.72,272.23 L261.88,272.20 L262.05,272.16 L262.22,272.13 L262.39,272.10 L262.56,272.07 L262.73,272.03 L262.90,272.00 L263.07,271.97 L263.24,271.94 L263.41,271.91 L263.58,271.88 L263.75,271.85 L263.91,271.82 L264.08,271.79 L264.25,271.76 L264.42,271.73 L264.59,271.70 L264.76,271.68 L264.93,271.65 L265.10,271.62 L265.27,271.59 L265.44,271.57 L265.61,271.54 L265.77,271.51 L265.94,271.49 L266.11,271.46 L266.28,271.43 L266.45,271.41 L266.62,271.38 L266.79,271.36 L266.96,271.33 L267.13,271.31 L267.30,271.28 L267.47,271.26 L267.64,271.23 L267.81,271.21 L267.97,271.18 L268.14,271.16 L268.31,271.14 L268.48,271.11 L268.65,271.09 L268.82,271.07 L268.99,271.04 L269.16,271.02 L269.33,271.00 L269.50,270.98 L269.67,270.95 L269.83,270.93 L270.00,270.91 L270.17,270.89 L270.34,270.87 L270.51,270.85 L270.68,270.82 L270.85,270.80 L271.02,270.78 L271.19,270.76 L271.36,270.74 L271.53,270.72 L271.70,270.70 L271.87,270.68 L272.03,270.66 L272.20,270.64 L272.37,270.62 L272.54,270.60 L272.71,270.58 L272.88,270.56 L273.05,270.55 L273.22,270.53 L273.39,270.51 L273.56,270.49 L273.73,270.47 L273.89,270.45 L274.06,270.44 L274.23,270.42 L274.40,270.40 L274.57,270.38 L274.74,270.36 L274.91,270.35 L275.08,270.33 L275.25,270.31 L275.42,270.30 L275.59,270.28 L275.76,270.26 L275.93,270.24 L276.09,270.23 L276.26,270.21 L276.43,270.20 L276.60,270.18 L276.77,270.16 L276.94,270.15 L277.11,270.13 L277.28,270.11 L277.45,270.10 L277.62,270.08 L277.79,270.07 L277.95,270.05 L278.12,270.04 L278.29,270.02 L278.46,270.01 L278.63,269.99 L278.80,269.98 L278.97,269.96 L279.14,269.95 L279.31,269.93 L279.48,269.92 L279.65,269.90 L279.82,269.89 L279.99,269.88 L280.15,269.86 L280.32,269.85 L280.49,269.83 L280.66,269.82 L280.83,269.81 L281.00,269.79" fill="none" stroke="#1c0f5a" stroke-width="2.8" stroke-linejoin="round"/>
<path d="M225.70,401.39 L225.89,401.38 L226.07,401.36 L226.26,401.35 L226.44,401.33 L226.63,401.31 L226.81,401.30 L227.00,401.28 L227.18,401.26 L227.37,401.25 L227.55,401.23 L227.74,401.21 L227.93,401.20 L228.11,401.18 L228.30,401.16 L228.48,401.14 L228.67,401.13 L228.85,401.11 L229.04,401.09 L229.22,401.07 L229.41,401.06 L229.60,401.04 L229.78,401.02 L229.97,401.00 L230.15,400.98 L230.34,400.96 L230.52,400.94 L230.71,400.93 L230.89,400.91 L231.08,400.89 L231.26,400.87 L231.45,400.85 L231.64,400.83 L231.82,400.81 L232.01,400.79 L232.19,400.77 L232.38,400.75 L232.56,400.73 L232.75,400.71 L232.93,400.69 L233.12,400.67 L233.31,400.65 L233.49,400.62 L233.68,400.60 L233.86,400.58 L234.05,400.56 L234.23,400.54 L234.42,400.52 L234.60,400.49 L234.79,400.47 L234.97,400.45 L235.16,400.43 L235.35,400.40 L235.53,400.38 L235.72,400.36 L235.90,400.33 L236.09,400.31 L236.27,400.29 L236.46,400.26 L236.64,400.24 L236.83,400.21 L237.02,400.19 L237.20,400.16 L237.39,400.14 L237.57,400.11 L237.76,400.09 L237.94,400.06 L238.13,400.04 L238.31,400.01 L238.50,399.98 L238.69,399.96 L238.87,399.93 L239.06,399.90 L239.24,399.88 L239.43,399.85 L239.61,399.82 L239.80,399.79 L239.98,399.77 L240.17,399.74 L240.35,399.71 L240.54,399.68 L240.73,399.65 L240.91,399.62 L241.10,399.59 L241.28,399.56 L241.47,399.53 L241.65,399.50 L241.84,399.47 L242.02,399.44 L242.21,399.41 L242.39,399.37 L242.58,399.34 L242.77,399.31 L242.95,399.28 L243.14,399.24 L243.32,399.21 L243.51,399.18 L243.69,399.14 L243.88,399.11 L244.06,399.08 L244.25,399.04 L244.44,399.00 L244.62,398.97 L244.81,398.93 L244.99,398.90 L245.18,398.86 L245.36,398.82 L245.55,398.79 L245.73,398.75 L245.92,398.71 L246.10,398.67 L246.29,398.63 L246.48,398.59 L246.66,398.55 L246.85,398.51 L247.03,398.47 L247.22,398.43 L247.40,398.39 L247.59,398.35 L247.77,398.31 L247.96,398.26 L248.15,398.22 L248.33,398.18 L248.52,398.13 L248.70,398.09 L248.89,398.04 L249.07,398.00 L249.26,397.95 L249.44,397.90 L249.63,397.86 L249.81,397.81 L250.00,397.76 L250.19,397.71 L250.37,397.66 L250.56,397.61 L250.74,397.56 L250.93,397.51 L251.11,397.46 L251.30,397.41 L251.48,397.35 L251.67,397.30 L251.86,397.25 L252.04,397.19 L252.23,397.14 L252.41,397.08 L252.60,397.02 L252.78,396.97 L252.97,396.91 L253.15,396.85 L253.34,396.79 L253.52,396.73 L253.71,396.67 L253.90,396.61 L254.08,396.54 L254.27,396.48 L254.45,396.42 L254.64,396.35 L254.82,396.29 L255.01,396.22 L255.19,396.15 L255.38,396.08 L255.57,396.01 L255.75,395.94 L255.94,395.87 L256.12,395.80 L256.31,395.73 L256.49,395.65 L256.68,395.58 L256.86,395.50 L257.05,395.42 L257.24,395.34 L257.42,395.26 L257.61,395.18 L257.79,395.10 L257.98,395.02 L258.16,394.94 L258.35,394.85 L258.53,394.76 L258.72,394.68 L258.90,394.59 L259.09,394.50 L259.28,394.41 L259.46,394.31 L259.65,394.22 L259.83,394.12 L260.02,394.03 L260.20,393.93 L260.39,393.83 L260.57,393.72 L260.76,393.62 L260.94,393.52 L261.13,393.41 L261.32,393.30 L261.50,393.19 L261.69,393.08 L261.87,392.97 L262.06,392.85 L262.24,392.73 L262.43,392.62 L262.61,392.49 L262.80,392.37 L262.99,392.25 L263.17,392.12 L263.36,391.99 L263.54,391.86 L263.73,391.73 L263.91,391.59 L264.10,391.45 L264.28,391.31 L264.47,391.17 L264.65,391.02 L264.84,390.87 L265.03,390.72 L265.21,390.57 L265.40,390.42 L265.58,390.26 L265.77,390.09 L265.95,389.93 L266.14,389.76 L266.32,389.59 L266.51,389.42 L266.70,389.24 L266.88,389.06 L267.07,388.88 L267.25,388.69 L267.44,388.50 L267.62,388.31 L267.81,388.11 L267.99,387.91 L268.18,387.71 L268.37,387.50 L268.55,387.28 L268.74,387.07 L268.92,386.85 L269.11,386.62 L269.29,386.39 L269.48,386.16 L269.66,385.92 L269.85,385.67 L270.03,385.43 L270.22,385.17 L270.41,384.91 L270.59,384.65 L270.78,384.38 L270.96,384.11 L271.15,383.83 L271.33,383.54 L271.52,383.25 L271.70,382.95 L271.89,382.65 L272.07,382.33 L272.26,382.02 L272.45,381.69 L272.63,381.36 L272.82,381.02 L273.00,380.68 L273.19,380.32 L273.37,379.96 L273.56,379.59 L273.74,379.21 L273.93,378.82 L274.12,378.42 L274.30,378.01 L274.49,377.59 L274.67,377.16 L274.86,376.72 L275.04,376.26 L275.23,375.79 L275.41,375.30 L275.60,374.79 L275.78,374.27 L275.97,373.72 L276.16,373.15 L276.34,372.55 L276.53,371.92 L276.71,371.25 L276.90,370.54 L277.08,369.77 L277.27,368.93 L277.45,368.02 L277.64,367.00 L277.83,365.84 L278.01,364.50 L278.20,362.91 L278.38,360.98 L278.57,358.55 L278.75,355.39 L278.94,351.16 L279.12,345.49 L279.31,338.30 L279.50,330.43 L279.68,323.27 L279.87,317.64 L280.05,313.44 L280.24,310.30 L280.42,307.88 L280.61,305.96 L280.79,304.38 L280.98,303.05 L281.16,301.89 L281.35,300.87 L281.54,299.96 L281.72,299.13 L281.91,298.36 L282.09,297.65 L282.28,296.98 L282.46,296.35 L282.65,295.75 L282.83,295.18 L283.02,294.64 L283.20,294.11 L283.39,293.61 L283.58,293.12 L283.76,292.65 L283.95,292.19 L284.13,291.75 L284.32,291.31 L284.50,290.89 L284.69,290.49 L284.87,290.09 L285.06,289.70 L285.25,289.32 L285.43,288.95 L285.62,288.59 L285.80,288.23 L285.99,287.89 L286.17,287.55 L286.36,287.22 L286.54,286.89 L286.73,286.57 L286.92,286.26 L287.10,285.96 L287.29,285.66 L287.47,285.37 L287.66,285.08 L287.84,284.80 L288.03,284.53 L288.21,284.26 L288.40,284.00 L288.58,283.74 L288.77,283.48 L288.96,283.24 L289.14,282.99 L289.33,282.75 L289.51,282.52 L289.70,282.29 L289.88,282.06 L290.07,281.84 L290.25,281.63 L290.44,281.41 L290.62,281.21 L290.81,281.00 L291.00,280.80 L291.18,280.60 L291.37,280.41 L291.55,280.22 L291.74,280.03 L291.92,279.85 L292.11,279.67 L292.29,279.49 L292.48,279.32 L292.67,279.15 L292.85,278.98 L293.04,278.82 L293.22,278.66 L293.41,278.50 L293.59,278.34 L293.78,278.19 L293.96,278.04 L294.15,277.89 L294.33,277.75 L294.52,277.60 L294.71,277.46 L294.89,277.32 L295.08,277.19 L295.26,277.05 L295.45,276.92 L295.63,276.79 L295.82,276.67 L296.00,276.54 L296.19,276.42 L296.38,276.30 L296.56,276.18 L296.75,276.06 L296.93,275.95 L297.12,275.83 L297.30,275.72 L297.49,275.61 L297.67,275.50 L297.86,275.40 L298.05,275.29 L298.23,275.19 L298.42,275.09 L298.60,274.99 L298.79,274.89 L298.97,274.79 L299.16,274.70 L299.34,274.60 L299.53,274.51 L299.71,274.42 L299.90,274.33 L300.09,274.24 L300.27,274.15 L300.46,274.06 L300.64,273.98 L300.83,273.89 L301.01,273.81 L301.20,273.73 L301.38,273.65 L301.57,273.57 L301.75,273.49 L301.94,273.41 L302.13,273.34 L302.31,273.26 L302.50,273.19 L302.68,273.12 L302.87,273.04 L303.05,272.97 L303.24,272.90 L303.42,272.83 L303.61,272.76 L303.80,272.70 L303.98,272.63 L304.17,272.56 L304.35,272.50 L304.54,272.43 L304.72,272.37 L304.91,272.31 L305.09,272.25 L305.28,272.19 L305.47,272.13 L305.65,272.07 L305.84,272.01 L306.02,271.95 L306.21,271.89 L306.39,271.83 L306.58,271.78 L306.76,271.72 L306.95,271.67 L307.13,271.61 L307.32,271.56 L307.51,271.51 L307.69,271.46 L307.88,271.40 L308.06,271.35 L308.25,271.30 L308.43,271.25 L308.62,271.20 L308.80,271.15 L308.99,271.11 L309.18,271.06 L309.36,271.01 L309.55,270.96 L309.73,270.92 L309.92,270.87 L310.10,270.83 L310.29,270.78 L310.47,270.74 L310.66,270.70 L310.84,270.65 L311.03,270.61 L311.22,270.57 L311.40,270.53 L311.59,270.48 L311.77,270.44 L311.96,270.40 L312.14,270.36 L312.33,270.32 L312.51,270.28 L312.70,270.24 L312.88,270.21 L313.07,270.17 L313.26,270.13 L313.44,270.09 L313.63,270.06 L313.81,270.02 L314.00,269.98 L314.18,269.95 L314.37,269.91 L314.55,269.88 L314.74,269.84 L314.93,269.81 L315.11,269.77 L315.30,269.74 L315.48,269.70 L315.67,269.67 L315.85,269.64 L316.04,269.61 L316.22,269.57 L316.41,269.54 L316.60,269.51 L316.78,269.48 L316.97,269.45 L317.15,269.42 L317.34,269.39 L317.52,269.35 L317.71,269.32 L317.89,269.30 L318.08,269.27 L318.26,269.24 L318.45,269.21 L318.64,269.18 L318.82,269.15 L319.01,269.12 L319.19,269.09 L319.38,269.07 L319.56,269.04 L319.75,269.01 L319.93,268.98 L320.12,268.96 L320.31,268.93 L320.49,268.90 L320.68,268.88 L320.86,268.85 L321.05,268.83 L321.23,268.80 L321.42,268.78 L321.60,268.75 L321.79,268.73 L321.97,268.70 L322.16,268.68 L322.35,268.65 L322.53,268.63 L322.72,268.61 L322.90,268.58 L323.09,268.56 L323.27,268.54 L323.46,268.51 L323.64,268.49 L323.83,268.47 L324.01,268.44 L324.20,268.42 L324.39,268.40 L324.57,268.38 L324.76,268.36 L324.94,268.33 L325.13,268.31 L325.31,268.29 L325.50,268.27 L325.68,268.25 L325.87,268.23 L326.06,268.21 L326.24,268.19 L326.43,268.17 L326.61,268.15 L326.80,268.13 L326.98,268.11 L327.17,268.09 L327.35,268.07 L327.54,268.05 L327.73,268.03 L327.91,268.01 L328.10,267.99 L328.28,267.97 L328.47,267.95 L328.65,267.93 L328.84,267.91 L329.02,267.90 L329.21,267.88 L329.39,267.86 L329.58,267.84 L329.77,267.82 L329.95,267.81 L330.14,267.79 L330.32,267.77 L330.51,267.75 L330.69,267.74 L330.88,267.72 L331.06,267.70 L331.25,267.69 L331.44,267.67 L331.62,267.65 L331.81,267.64 L331.99,267.62 L332.18,267.60 L332.36,267.59 L332.55,267.57 L332.73,267.55 L332.92,267.54 L333.10,267.52 L333.29,267.51 L333.48,267.49 L333.66,267.48 L333.85,267.46 L334.03,267.45 L334.22,267.43 L334.40,267.42 L334.59,267.40 L334.77,267.39 L334.96,267.37 L335.14,267.36 L335.33,267.34 L335.52,267.33 L335.70,267.31 L335.89,267.30 L336.07,267.28 L336.26,267.27 L336.44,267.26 L336.63,267.24 L336.81,267.23 L337.00,267.21" fill="none" stroke="#0a1ef0" stroke-width="2.8" stroke-linejoin="round"/>
<path d="M282.20,404.40 L282.39,404.39 L282.57,404.37 L282.76,404.36 L282.94,404.34 L283.13,404.33 L283.31,404.31 L283.50,404.30 L283.68,404.28 L283.87,404.27 L284.05,404.25 L284.24,404.24 L284.42,404.22 L284.61,404.21 L284.79,404.19 L284.98,404.18 L285.17,404.16 L285.35,404.15 L285.54,404.13 L285.72,404.11 L285.91,404.10 L286.09,404.08 L286.28,404.07 L286.46,404.05 L286.65,404.03 L286.83,404.02 L287.02,404.00 L287.20,403.98 L287.39,403.97 L287.57,403.95 L287.76,403.93 L287.95,403.91 L288.13,403.90 L288.32,403.88 L288.50,403.86 L288.69,403.84 L288.87,403.82 L289.06,403.81 L289.24,403.79 L289.43,403.77 L289.61,403.75 L289.80,403.73 L289.98,403.71 L290.17,403.69 L290.35,403.67 L290.54,403.65 L290.73,403.63 L290.91,403.62 L291.10,403.60 L291.28,403.58 L291.47,403.55 L291.65,403.53 L291.84,403.51 L292.02,403.49 L292.21,403.47 L292.39,403.45 L292.58,403.43 L292.76,403.41 L292.95,403.39 L293.13,403.36 L293.32,403.34 L293.51,403.32 L293.69,403.30 L293.88,403.28 L294.06,403.25 L294.25,403.23 L294.43,403.21 L294.62,403.18 L294.80,403.16 L294.99,403.14 L295.17,403.11 L295.36,403.09 L295.54,403.06 L295.73,403.04 L295.91,403.01 L296.10,402.99 L296.29,402.96 L296.47,402.94 L296.66,402.91 L296.84,402.89 L297.03,402.86 L297.21,402.83 L297.40,402.81 L297.58,402.78 L297.77,402.75 L297.95,402.73 L298.14,402.70 L298.32,402.67 L298.51,402.64 L298.69,402.61 L298.88,402.58 L299.07,402.56 L299.25,402.53 L299.44,402.50 L299.62,402.47 L299.81,402.44 L299.99,402.41 L300.18,402.37 L300.36,402.34 L300.55,402.31 L300.73,402.28 L300.92,402.25 L301.10,402.22 L301.29,402.18 L301.47,402.15 L301.66,402.12 L301.85,402.08 L302.03,402.05 L302.22,402.01 L302.40,401.98 L302.59,401.94 L302.77,401.91 L302.96,401.87 L303.14,401.84 L303.33,401.80 L303.51,401.76 L303.70,401.72 L303.88,401.69 L304.07,401.65 L304.25,401.61 L304.44,401.57 L304.63,401.53 L304.81,401.49 L305.00,401.45 L305.18,401.41 L305.37,401.37 L305.55,401.33 L305.74,401.28 L305.92,401.24 L306.11,401.20 L306.29,401.15 L306.48,401.11 L306.66,401.06 L306.85,401.02 L307.03,400.97 L307.22,400.93 L307.41,400.88 L307.59,400.83 L307.78,400.78 L307.96,400.73 L308.15,400.68 L308.33,400.63 L308.52,400.58 L308.70,400.53 L308.89,400.48 L309.07,400.43 L309.26,400.37 L309.44,400.32 L309.63,400.27 L309.81,400.21 L310.00,400.15 L310.19,400.10 L310.37,400.04 L310.56,399.98 L310.74,399.92 L310.93,399.86 L311.11,399.80 L311.30,399.74 L311.48,399.68 L311.67,399.61 L311.85,399.55 L312.04,399.48 L312.22,399.42 L312.41,399.35 L312.59,399.28 L312.78,399.22 L312.97,399.15 L313.15,399.07 L313.34,399.00 L313.52,398.93 L313.71,398.86 L313.89,398.78 L314.08,398.70 L314.26,398.63 L314.45,398.55 L314.63,398.47 L314.82,398.39 L315.00,398.31 L315.19,398.22 L315.37,398.14 L315.56,398.05 L315.75,397.96 L315.93,397.88 L316.12,397.78 L316.30,397.69 L316.49,397.60 L316.67,397.51 L316.86,397.41 L317.04,397.31 L317.23,397.21 L317.41,397.11 L317.60,397.01 L317.78,396.90 L317.97,396.80 L318.15,396.69 L318.34,396.58 L318.53,396.47 L318.71,396.35 L318.90,396.24 L319.08,396.12 L319.27,396.00 L319.45,395.88 L319.64,395.75 L319.82,395.63 L320.01,395.50 L320.19,395.36 L320.38,395.23 L320.56,395.09 L320.75,394.96 L320.93,394.81 L321.12,394.67 L321.31,394.52 L321.49,394.37 L321.68,394.22 L321.86,394.06 L322.05,393.90 L322.23,393.74 L322.42,393.58 L322.60,393.41 L322.79,393.24 L322.97,393.06 L323.16,392.88 L323.34,392.70 L323.53,392.51 L323.71,392.32 L323.90,392.13 L324.09,391.93 L324.27,391.73 L324.46,391.52 L324.64,391.31 L324.83,391.09 L325.01,390.87 L325.20,390.64 L325.38,390.41 L325.57,390.18 L325.75,389.94 L325.94,389.69 L326.12,389.44 L326.31,389.18 L326.49,388.91 L326.68,388.64 L326.87,388.37 L327.05,388.09 L327.24,387.80 L327.42,387.50 L327.61,387.20 L327.79,386.89 L327.98,386.57 L328.16,386.25 L328.35,385.91 L328.53,385.57 L328.72,385.22 L328.90,384.86 L329.09,384.49 L329.27,384.12 L329.46,383.73 L329.65,383.33 L329.83,382.93 L330.02,382.51 L330.20,382.08 L330.39,381.63 L330.57,381.18 L330.76,380.71 L330.94,380.23 L331.13,379.73 L331.31,379.21 L331.50,378.68 L331.68,378.12 L331.87,377.55 L332.05,376.94 L332.24,376.32 L332.43,375.66 L332.61,374.96 L332.80,374.22 L332.98,373.43 L333.17,372.58 L333.35,371.66 L333.54,370.64 L333.72,369.51 L333.91,368.22 L334.09,366.72 L334.28,364.94 L334.46,362.75 L334.65,359.97 L334.83,356.32 L335.02,351.44 L335.21,345.01 L335.39,337.31 L335.58,329.53 L335.76,322.95 L335.95,317.92 L336.13,314.17 L336.32,311.31 L336.50,309.07 L336.69,307.26 L336.87,305.73 L337.06,304.42 L337.24,303.28 L337.43,302.25 L337.61,301.32 L337.80,300.46 L337.99,299.67 L338.17,298.92 L338.36,298.22 L338.54,297.56 L338.73,296.93 L338.91,296.32 L339.10,295.75 L339.28,295.19 L339.47,294.65 L339.65,294.13 L339.84,293.63 L340.02,293.15 L340.21,292.68 L340.39,292.22 L340.58,291.78 L340.77,291.35 L340.95,290.93 L341.14,290.52 L341.32,290.12 L341.51,289.73 L341.69,289.35 L341.88,288.98 L342.06,288.63 L342.25,288.27 L342.43,287.93 L342.62,287.60 L342.80,287.27 L342.99,286.95 L343.17,286.64 L343.36,286.34 L343.55,286.04 L343.73,285.75 L343.92,285.47 L344.10,285.19 L344.29,284.92 L344.47,284.66 L344.66,284.40 L344.84,284.15 L345.03,283.90 L345.21,283.66 L345.40,283.42 L345.58,283.19 L345.77,282.96 L345.95,282.74 L346.14,282.53 L346.33,282.31 L346.51,282.11 L346.70,281.90 L346.88,281.70 L347.07,281.51 L347.25,281.32 L347.44,281.13 L347.62,280.95 L347.81,280.77 L347.99,280.59 L348.18,280.42 L348.36,280.25 L348.55,280.08 L348.73,279.92 L348.92,279.76 L349.11,279.61 L349.29,279.45 L349.48,279.30 L349.66,279.16 L349.85,279.01 L350.03,278.87 L350.22,278.73 L350.40,278.59 L350.59,278.46 L350.77,278.33 L350.96,278.20 L351.14,278.07 L351.33,277.95 L351.51,277.82 L351.70,277.70 L351.89,277.59 L352.07,277.47 L352.26,277.35 L352.44,277.24 L352.63,277.13 L352.81,277.02 L353.00,276.92 L353.18,276.81 L353.37,276.71 L353.55,276.61 L353.74,276.51 L353.92,276.41 L354.11,276.31 L354.29,276.22 L354.48,276.13 L354.67,276.03 L354.85,275.94 L355.04,275.86 L355.22,275.77 L355.41,275.68 L355.59,275.60 L355.78,275.51 L355.96,275.43 L356.15,275.35 L356.33,275.27 L356.52,275.19 L356.70,275.11 L356.89,275.04 L357.07,274.96 L357.26,274.89 L357.45,274.82 L357.63,274.74 L357.82,274.67 L358.00,274.60 L358.19,274.53 L358.37,274.47 L358.56,274.40 L358.74,274.33 L358.93,274.27 L359.11,274.20 L359.30,274.14 L359.48,274.08 L359.67,274.02 L359.85,273.95 L360.04,273.89 L360.23,273.84 L360.41,273.78 L360.60,273.72 L360.78,273.66 L360.97,273.61 L361.15,273.55 L361.34,273.50 L361.52,273.44 L361.71,273.39 L361.89,273.34 L362.08,273.28 L362.26,273.23 L362.45,273.18 L362.63,273.13 L362.82,273.08 L363.01,273.03 L363.19,272.98 L363.38,272.94 L363.56,272.89 L363.75,272.84 L363.93,272.80 L364.12,272.75 L364.30,272.71 L364.49,272.66 L364.67,272.62 L364.86,272.57 L365.04,272.53 L365.23,272.49 L365.41,272.45 L365.60,272.40 L365.79,272.36 L365.97,272.32 L366.16,272.28 L366.34,272.24 L366.53,272.20 L366.71,272.17 L366.90,272.13 L367.08,272.09 L367.27,272.05 L367.45,272.01 L367.64,271.98 L367.82,271.94 L368.01,271.91 L368.19,271.87 L368.38,271.83 L368.57,271.80 L368.75,271.77 L368.94,271.73 L369.12,271.70 L369.31,271.66 L369.49,271.63 L369.68,271.60 L369.86,271.57 L370.05,271.53 L370.23,271.50 L370.42,271.47 L370.60,271.44 L370.79,271.41 L370.97,271.38 L371.16,271.35 L371.35,271.32 L371.53,271.29 L371.72,271.26 L371.90,271.23 L372.09,271.20 L372.27,271.17 L372.46,271.14 L372.64,271.12 L372.83,271.09 L373.01,271.06 L373.20,271.03 L373.38,271.01 L373.57,270.98 L373.75,270.95 L373.94,270.93 L374.13,270.90 L374.31,270.87 L374.50,270.85 L374.68,270.82 L374.87,270.80 L375.05,270.77 L375.24,270.75 L375.42,270.72 L375.61,270.70 L375.79,270.68 L375.98,270.65 L376.16,270.63 L376.35,270.61 L376.53,270.58 L376.72,270.56 L376.91,270.54 L377.09,270.51 L377.28,270.49 L377.46,270.47 L377.65,270.45 L377.83,270.43 L378.02,270.40 L378.20,270.38 L378.39,270.36 L378.57,270.34 L378.76,270.32 L378.94,270.30 L379.13,270.28 L379.31,270.26 L379.50,270.24 L379.69,270.22 L379.87,270.20 L380.06,270.18 L380.24,270.16 L380.43,270.14 L380.61,270.12 L380.80,270.10 L380.98,270.08 L381.17,270.06 L381.35,270.04 L381.54,270.02 L381.72,270.01 L381.91,269.99 L382.09,269.97 L382.28,269.95 L382.47,269.93 L382.65,269.92 L382.84,269.90 L383.02,269.88 L383.21,269.86 L383.39,269.85 L383.58,269.83 L383.76,269.81 L383.95,269.80 L384.13,269.78 L384.32,269.76 L384.50,269.75 L384.69,269.73 L384.87,269.71 L385.06,269.70 L385.25,269.68 L385.43,269.67 L385.62,269.65 L385.80,269.63 L385.99,269.62 L386.17,269.60 L386.36,269.59 L386.54,269.57 L386.73,269.56 L386.91,269.54 L387.10,269.53 L387.28,269.51 L387.47,269.50 L387.65,269.48 L387.84,269.47 L388.03,269.45 L388.21,269.44 L388.40,269.43 L388.58,269.41 L388.77,269.40 L388.95,269.38 L389.14,269.37 L389.32,269.36 L389.51,269.34 L389.69,269.33 L389.88,269.32 L390.06,269.30 L390.25,269.29 L390.43,269.28 L390.62,269.26 L390.81,269.25 L390.99,269.24 L391.18,269.22 L391.36,269.21 L391.55,269.20 L391.73,269.19 L391.92,269.17 L392.10,269.16 L392.29,269.15 L392.47,269.14 L392.66,269.12 L392.84,269.11 L393.03,269.10 L393.21,269.09 L393.40,269.08" fill="none" stroke="#6aa832" stroke-width="2.8" stroke-linejoin="round"/>
<path d="M337.60,401.39 L337.79,401.38 L337.97,401.36 L338.16,401.35 L338.34,401.33 L338.53,401.32 L338.72,401.30 L338.90,401.28 L339.09,401.27 L339.27,401.25 L339.46,401.24 L339.64,401.22 L339.83,401.20 L340.02,401.19 L340.20,401.17 L340.39,401.15 L340.57,401.14 L340.76,401.12 L340.95,401.10 L341.13,401.08 L341.32,401.07 L341.50,401.05 L341.69,401.03 L341.87,401.01 L342.06,401.00 L342.25,400.98 L342.43,400.96 L342.62,400.94 L342.80,400.92 L342.99,400.90 L343.18,400.89 L343.36,400.87 L343.55,400.85 L343.73,400.83 L343.92,400.81 L344.10,400.79 L344.29,400.77 L344.48,400.75 L344.66,400.73 L344.85,400.71 L345.03,400.69 L345.22,400.67 L345.41,400.65 L345.59,400.63 L345.78,400.61 L345.96,400.59 L346.15,400.57 L346.33,400.55 L346.52,400.52 L346.71,400.50 L346.89,400.48 L347.08,400.46 L347.26,400.44 L347.45,400.41 L347.64,400.39 L347.82,400.37 L348.01,400.35 L348.19,400.32 L348.38,400.30 L348.56,400.28 L348.75,400.25 L348.94,400.23 L349.12,400.21 L349.31,400.18 L349.49,400.16 L349.68,400.13 L349.87,400.11 L350.05,400.08 L350.24,400.06 L350.42,400.03 L350.61,400.01 L350.79,399.98 L350.98,399.95 L351.17,399.93 L351.35,399.90 L351.54,399.87 L351.72,399.85 L351.91,399.82 L352.10,399.79 L352.28,399.76 L352.47,399.74 L352.65,399.71 L352.84,399.68 L353.02,399.65 L353.21,399.62 L353.40,399.59 L353.58,399.56 L353.77,399.53 L353.95,399.50 L354.14,399.47 L354.33,399.44 L354.51,399.41 L354.70,399.38 L354.88,399.35 L355.07,399.32 L355.25,399.28 L355.44,399.25 L355.63,399.22 L355.81,399.19 L356.00,399.15 L356.18,399.12 L356.37,399.08 L356.56,399.05 L356.74,399.01 L356.93,398.98 L357.11,398.94 L357.30,398.91 L357.48,398.87 L357.67,398.84 L357.86,398.80 L358.04,398.76 L358.23,398.72 L358.41,398.69 L358.60,398.65 L358.79,398.61 L358.97,398.57 L359.16,398.53 L359.34,398.49 L359.53,398.45 L359.71,398.41 L359.90,398.37 L360.09,398.32 L360.27,398.28 L360.46,398.24 L360.64,398.20 L360.83,398.15 L361.02,398.11 L361.20,398.06 L361.39,398.02 L361.57,397.97 L361.76,397.93 L361.94,397.88 L362.13,397.83 L362.32,397.78 L362.50,397.74 L362.69,397.69 L362.87,397.64 L363.06,397.59 L363.25,397.54 L363.43,397.49 L363.62,397.43 L363.80,397.38 L363.99,397.33 L364.17,397.27 L364.36,397.22 L364.55,397.17 L364.73,397.11 L364.92,397.05 L365.10,397.00 L365.29,396.94 L365.48,396.88 L365.66,396.82 L365.85,396.76 L366.03,396.70 L366.22,396.64 L366.40,396.58 L366.59,396.51 L366.78,396.45 L366.96,396.38 L367.15,396.32 L367.33,396.25 L367.52,396.18 L367.71,396.12 L367.89,396.05 L368.08,395.98 L368.26,395.91 L368.45,395.83 L368.63,395.76 L368.82,395.69 L369.01,395.61 L369.19,395.54 L369.38,395.46 L369.56,395.38 L369.75,395.30 L369.94,395.22 L370.12,395.14 L370.31,395.06 L370.49,394.97 L370.68,394.89 L370.86,394.80 L371.05,394.71 L371.24,394.62 L371.42,394.53 L371.61,394.44 L371.79,394.35 L371.98,394.25 L372.17,394.16 L372.35,394.06 L372.54,393.96 L372.72,393.86 L372.91,393.76 L373.09,393.65 L373.28,393.55 L373.47,393.44 L373.65,393.33 L373.84,393.22 L374.02,393.11 L374.21,392.99 L374.40,392.88 L374.58,392.76 L374.77,392.64 L374.95,392.52 L375.14,392.39 L375.32,392.27 L375.51,392.14 L375.70,392.01 L375.88,391.87 L376.07,391.74 L376.25,391.60 L376.44,391.46 L376.62,391.32 L376.81,391.17 L377.00,391.03 L377.18,390.88 L377.37,390.72 L377.55,390.57 L377.74,390.41 L377.93,390.25 L378.11,390.08 L378.30,389.92 L378.48,389.75 L378.67,389.57 L378.86,389.40 L379.04,389.22 L379.23,389.03 L379.41,388.85 L379.60,388.65 L379.78,388.46 L379.97,388.26 L380.16,388.06 L380.34,387.85 L380.53,387.64 L380.71,387.43 L380.90,387.21 L381.09,386.99 L381.27,386.76 L381.46,386.53 L381.64,386.29 L381.83,386.05 L382.01,385.80 L382.20,385.55 L382.39,385.30 L382.57,385.03 L382.76,384.77 L382.94,384.49 L383.13,384.21 L383.32,383.93 L383.50,383.64 L383.69,383.34 L383.87,383.04 L384.06,382.73 L384.24,382.41 L384.43,382.09 L384.62,381.76 L384.80,381.42 L384.99,381.07 L385.17,380.72 L385.36,380.36 L385.55,379.98 L385.73,379.60 L385.92,379.21 L386.10,378.81 L386.29,378.41 L386.47,377.98 L386.66,377.55 L386.85,377.11 L387.03,376.65 L387.22,376.18 L387.40,375.69 L387.59,375.19 L387.78,374.66 L387.96,374.12 L388.15,373.55 L388.33,372.96 L388.52,372.34 L388.70,371.68 L388.89,370.98 L389.08,370.23 L389.26,369.42 L389.45,368.54 L389.63,367.57 L389.82,366.48 L390.00,365.24 L390.19,363.79 L390.38,362.05 L390.56,359.91 L390.75,357.18 L390.93,353.58 L391.12,348.73 L391.31,342.34 L391.49,334.66 L391.68,326.91 L391.86,320.38 L392.05,315.41 L392.24,311.71 L392.42,308.91 L392.61,306.73 L392.79,304.96 L392.98,303.49 L393.16,302.23 L393.35,301.12 L393.54,300.14 L393.72,299.26 L393.91,298.44 L394.09,297.69 L394.28,296.99 L394.47,296.33 L394.65,295.70 L394.84,295.10 L395.02,294.54 L395.21,293.99 L395.39,293.47 L395.58,292.96 L395.77,292.47 L395.95,292.00 L396.14,291.54 L396.32,291.09 L396.51,290.66 L396.70,290.24 L396.88,289.83 L397.07,289.43 L397.25,289.04 L397.44,288.65 L397.62,288.28 L397.81,287.92 L398.00,287.56 L398.18,287.22 L398.37,286.88 L398.55,286.55 L398.74,286.22 L398.93,285.90 L399.11,285.59 L399.30,285.29 L399.48,284.99 L399.67,284.70 L399.85,284.42 L400.04,284.14 L400.23,283.86 L400.41,283.59 L400.60,283.33 L400.78,283.08 L400.97,282.82 L401.16,282.58 L401.34,282.33 L401.53,282.10 L401.71,281.87 L401.90,281.64 L402.08,281.41 L402.27,281.20 L402.46,280.98 L402.64,280.77 L402.83,280.56 L403.01,280.36 L403.20,280.16 L403.38,279.97 L403.57,279.78 L403.76,279.59 L403.94,279.41 L404.13,279.22 L404.31,279.05 L404.50,278.87 L404.69,278.70 L404.87,278.54 L405.06,278.37 L405.24,278.21 L405.43,278.05 L405.62,277.89 L405.80,277.74 L405.99,277.59 L406.17,277.44 L406.36,277.30 L406.54,277.16 L406.73,277.02 L406.92,276.88 L407.10,276.74 L407.29,276.61 L407.47,276.48 L407.66,276.35 L407.85,276.22 L408.03,276.10 L408.22,275.98 L408.40,275.86 L408.59,275.74 L408.77,275.62 L408.96,275.51 L409.15,275.39 L409.33,275.28 L409.52,275.17 L409.70,275.07 L409.89,274.96 L410.08,274.86 L410.26,274.76 L410.45,274.65 L410.63,274.56 L410.82,274.46 L411.00,274.36 L411.19,274.27 L411.38,274.17 L411.56,274.08 L411.75,273.99 L411.93,273.90 L412.12,273.81 L412.31,273.73 L412.49,273.64 L412.68,273.56 L412.86,273.47 L413.05,273.39 L413.23,273.31 L413.42,273.23 L413.61,273.15 L413.79,273.08 L413.98,273.00 L414.16,272.92 L414.35,272.85 L414.54,272.78 L414.72,272.71 L414.91,272.63 L415.09,272.56 L415.28,272.49 L415.46,272.43 L415.65,272.36 L415.84,272.29 L416.02,272.23 L416.21,272.16 L416.39,272.10 L416.58,272.03 L416.77,271.97 L416.95,271.91 L417.14,271.85 L417.32,271.79 L417.51,271.73 L417.69,271.67 L417.88,271.61 L418.07,271.56 L418.25,271.50 L418.44,271.44 L418.62,271.39 L418.81,271.33 L419.00,271.28 L419.18,271.23 L419.37,271.18 L419.55,271.12 L419.74,271.07 L419.92,271.02 L420.11,270.97 L420.30,270.92 L420.48,270.87 L420.67,270.82 L420.85,270.78 L421.04,270.73 L421.23,270.68 L421.41,270.64 L421.60,270.59 L421.78,270.55 L421.97,270.50 L422.15,270.46 L422.34,270.41 L422.53,270.37 L422.71,270.33 L422.90,270.28 L423.08,270.24 L423.27,270.20 L423.46,270.16 L423.64,270.12 L423.83,270.08 L424.01,270.04 L424.20,270.00 L424.38,269.96 L424.57,269.92 L424.76,269.88 L424.94,269.85 L425.13,269.81 L425.31,269.77 L425.50,269.74 L425.69,269.70 L425.87,269.66 L426.06,269.63 L426.24,269.59 L426.43,269.56 L426.61,269.52 L426.80,269.49 L426.99,269.46 L427.17,269.42 L427.36,269.39 L427.54,269.36 L427.73,269.32 L427.92,269.29 L428.10,269.26 L428.29,269.23 L428.47,269.20 L428.66,269.17 L428.84,269.14 L429.03,269.10 L429.22,269.07 L429.40,269.04 L429.59,269.01 L429.77,268.99 L429.96,268.96 L430.15,268.93 L430.33,268.90 L430.52,268.87 L430.70,268.84 L430.89,268.82 L431.07,268.79 L431.26,268.76 L431.45,268.73 L431.63,268.71 L431.82,268.68 L432.00,268.65 L432.19,268.63 L432.38,268.60 L432.56,268.58 L432.75,268.55 L432.93,268.52 L433.12,268.50 L433.30,268.47 L433.49,268.45 L433.68,268.43 L433.86,268.40 L434.05,268.38 L434.23,268.35 L434.42,268.33 L434.61,268.31 L434.79,268.28 L434.98,268.26 L435.16,268.24 L435.35,268.21 L435.53,268.19 L435.72,268.17 L435.91,268.15 L436.09,268.13 L436.28,268.10 L436.46,268.08 L436.65,268.06 L436.84,268.04 L437.02,268.02 L437.21,268.00 L437.39,267.98 L437.58,267.96 L437.76,267.94 L437.95,267.92 L438.14,267.90 L438.32,267.88 L438.51,267.86 L438.69,267.84 L438.88,267.82 L439.07,267.80 L439.25,267.78 L439.44,267.76 L439.62,267.74 L439.81,267.72 L439.99,267.70 L440.18,267.68 L440.37,267.66 L440.55,267.65 L440.74,267.63 L440.92,267.61 L441.11,267.59 L441.30,267.57 L441.48,267.56 L441.67,267.54 L441.85,267.52 L442.04,267.50 L442.22,267.49 L442.41,267.47 L442.60,267.45 L442.78,267.44 L442.97,267.42 L443.15,267.40 L443.34,267.39 L443.53,267.37 L443.71,267.35 L443.90,267.34 L444.08,267.32 L444.27,267.31 L444.45,267.29 L444.64,267.27 L444.83,267.26 L445.01,267.24 L445.20,267.23 L445.38,267.21 L445.57,267.20 L445.75,267.18 L445.94,267.17 L446.13,267.15 L446.31,267.14 L446.50,267.12 L446.68,267.11 L446.87,267.09 L447.06,267.08 L447.24,267.07 L447.43,267.05 L447.61,267.04 L447.80,267.02 L447.99,267.01 L448.17,267.00 L448.36,266.98 L448.54,266.97 L448.73,266.95 L448.91,266.94 L449.10,266.93" fill="none" stroke="#d4d41e" stroke-width="2.8" stroke-linejoin="round"/>
<path d="M406.20,404.40 L406.37,404.38 L406.53,404.36 L406.69,404.34 L406.86,404.32 L407.02,404.30 L407.19,404.28 L407.35,404.27 L407.52,404.25 L407.69,404.23 L407.85,404.21 L408.01,404.18 L408.18,404.16 L408.34,404.14 L408.51,404.12 L408.68,404.10 L408.84,404.08 L409.00,404.06 L409.17,404.04 L409.33,404.02 L409.50,403.99 L409.66,403.97 L409.83,403.95 L410.00,403.93 L410.16,403.91 L410.32,403.88 L410.49,403.86 L410.65,403.84 L410.82,403.81 L410.99,403.79 L411.15,403.77 L411.31,403.74 L411.48,403.72 L411.64,403.69 L411.81,403.67 L411.97,403.64 L412.14,403.62 L412.31,403.59 L412.47,403.57 L412.63,403.54 L412.80,403.52 L412.96,403.49 L413.13,403.47 L413.30,403.44 L413.46,403.41 L413.62,403.39 L413.79,403.36 L413.95,403.33 L414.12,403.30 L414.28,403.28 L414.45,403.25 L414.62,403.22 L414.78,403.19 L414.94,403.16 L415.11,403.13 L415.27,403.10 L415.44,403.07 L415.60,403.04 L415.77,403.01 L415.94,402.98 L416.10,402.95 L416.26,402.92 L416.43,402.89 L416.59,402.85 L416.76,402.82 L416.93,402.79 L417.09,402.76 L417.25,402.72 L417.42,402.69 L417.58,402.66 L417.75,402.62 L417.91,402.59 L418.08,402.55 L418.25,402.52 L418.41,402.48 L418.57,402.45 L418.74,402.41 L418.90,402.37 L419.07,402.34 L419.24,402.30 L419.40,402.26 L419.56,402.22 L419.73,402.18 L419.89,402.14 L420.06,402.11 L420.22,402.07 L420.39,402.02 L420.56,401.98 L420.72,401.94 L420.88,401.90 L421.05,401.86 L421.21,401.82 L421.38,401.77 L421.55,401.73 L421.71,401.69 L421.88,401.64 L422.04,401.60 L422.20,401.55 L422.37,401.50 L422.53,401.46 L422.70,401.41 L422.87,401.36 L423.03,401.31 L423.19,401.27 L423.36,401.22 L423.52,401.17 L423.69,401.12 L423.86,401.06 L424.02,401.01 L424.19,400.96 L424.35,400.91 L424.51,400.85 L424.68,400.80 L424.84,400.74 L425.01,400.69 L425.18,400.63 L425.34,400.57 L425.50,400.52 L425.67,400.46 L425.83,400.40 L426.00,400.34 L426.16,400.28 L426.33,400.21 L426.50,400.15 L426.66,400.09 L426.82,400.02 L426.99,399.96 L427.15,399.89 L427.32,399.82 L427.49,399.76 L427.65,399.69 L427.81,399.62 L427.98,399.55 L428.14,399.48 L428.31,399.40 L428.47,399.33 L428.64,399.25 L428.81,399.18 L428.97,399.10 L429.13,399.02 L429.30,398.94 L429.46,398.86 L429.63,398.78 L429.79,398.70 L429.96,398.61 L430.12,398.53 L430.29,398.44 L430.45,398.36 L430.62,398.27 L430.78,398.18 L430.95,398.08 L431.12,397.99 L431.28,397.89 L431.44,397.80 L431.61,397.70 L431.77,397.60 L431.94,397.50 L432.11,397.40 L432.27,397.29 L432.44,397.19 L432.60,397.08 L432.76,396.97 L432.93,396.86 L433.09,396.74 L433.26,396.63 L433.43,396.51 L433.59,396.39 L433.75,396.27 L433.92,396.15 L434.08,396.02 L434.25,395.89 L434.41,395.76 L434.58,395.63 L434.75,395.50 L434.91,395.36 L435.07,395.22 L435.24,395.08 L435.40,394.93 L435.57,394.79 L435.74,394.64 L435.90,394.48 L436.06,394.33 L436.23,394.17 L436.39,394.01 L436.56,393.84 L436.72,393.67 L436.89,393.50 L437.06,393.33 L437.22,393.15 L437.38,392.97 L437.55,392.78 L437.71,392.60 L437.88,392.40 L438.04,392.21 L438.21,392.01 L438.38,391.80 L438.54,391.59 L438.70,391.38 L438.87,391.16 L439.03,390.94 L439.20,390.72 L439.37,390.48 L439.53,390.25 L439.69,390.01 L439.86,389.76 L440.02,389.51 L440.19,389.25 L440.36,388.99 L440.52,388.72 L440.69,388.45 L440.85,388.17 L441.01,387.88 L441.18,387.59 L441.34,387.29 L441.51,386.98 L441.68,386.67 L441.84,386.35 L442.00,386.02 L442.17,385.68 L442.33,385.34 L442.50,384.99 L442.66,384.62 L442.83,384.25 L443.00,383.88 L443.16,383.49 L443.32,383.09 L443.49,382.68 L443.65,382.26 L443.82,381.83 L443.99,381.38 L444.15,380.92 L444.31,380.45 L444.48,379.97 L444.64,379.46 L444.81,378.94 L444.97,378.40 L445.14,377.84 L445.31,377.26 L445.47,376.64 L445.63,376.00 L445.80,375.33 L445.96,374.61 L446.13,373.84 L446.29,373.02 L446.46,372.13 L446.62,371.16 L446.79,370.07 L446.95,368.85 L447.12,367.46 L447.28,365.82 L447.45,363.86 L447.62,361.45 L447.78,358.40 L447.94,354.46 L448.11,349.37 L448.27,343.05 L448.44,335.99 L448.61,329.18 L448.77,323.44 L448.94,318.94 L449.10,315.46 L449.26,312.75 L449.43,310.57 L449.59,308.79 L449.76,307.27 L449.93,305.97 L450.09,304.82 L450.25,303.80 L450.42,302.86 L450.58,302.01 L450.75,301.21 L450.91,300.47 L451.08,299.78 L451.25,299.12 L451.41,298.49 L451.57,297.89 L451.74,297.32 L451.90,296.77 L452.07,296.24 L452.24,295.73 L452.40,295.23 L452.56,294.75 L452.73,294.29 L452.89,293.84 L453.06,293.40 L453.22,292.97 L453.39,292.56 L453.56,292.15 L453.72,291.76 L453.88,291.37 L454.05,291.00 L454.21,290.63 L454.38,290.28 L454.54,289.93 L454.71,289.59 L454.88,289.26 L455.04,288.93 L455.20,288.62 L455.37,288.31 L455.53,288.00 L455.70,287.71 L455.87,287.42 L456.03,287.13 L456.19,286.85 L456.36,286.58 L456.52,286.32 L456.69,286.06 L456.86,285.80 L457.02,285.55 L457.19,285.31 L457.35,285.07 L457.51,284.84 L457.68,284.61 L457.84,284.39 L458.01,284.17 L458.18,283.95 L458.34,283.74 L458.50,283.53 L458.67,283.33 L458.83,283.13 L459.00,282.94 L459.16,282.75 L459.33,282.56 L459.50,282.38 L459.66,282.20 L459.82,282.02 L459.99,281.85 L460.15,281.68 L460.32,281.51 L460.49,281.35 L460.65,281.19 L460.81,281.03 L460.98,280.88 L461.14,280.73 L461.31,280.58 L461.47,280.43 L461.64,280.29 L461.81,280.15 L461.97,280.01 L462.13,279.87 L462.30,279.74 L462.46,279.61 L462.63,279.48 L462.79,279.35 L462.96,279.23 L463.12,279.10 L463.29,278.98 L463.45,278.87 L463.62,278.75 L463.78,278.64 L463.95,278.52 L464.12,278.41 L464.28,278.30 L464.44,278.20 L464.61,278.09 L464.77,277.99 L464.94,277.89 L465.11,277.79 L465.27,277.69 L465.44,277.59 L465.60,277.49 L465.76,277.40 L465.93,277.31 L466.09,277.22 L466.26,277.13 L466.43,277.04 L466.59,276.95 L466.75,276.86 L466.92,276.78 L467.08,276.70 L467.25,276.61 L467.41,276.53 L467.58,276.45 L467.75,276.37 L467.91,276.30 L468.07,276.22 L468.24,276.14 L468.40,276.07 L468.57,276.00 L468.74,275.92 L468.90,275.85 L469.06,275.78 L469.23,275.71 L469.39,275.65 L469.56,275.58 L469.72,275.51 L469.89,275.45 L470.06,275.38 L470.22,275.32 L470.38,275.25 L470.55,275.19 L470.71,275.13 L470.88,275.07 L471.04,275.01 L471.21,274.95 L471.38,274.89 L471.54,274.83 L471.70,274.78 L471.87,274.72 L472.03,274.67 L472.20,274.61 L472.37,274.56 L472.53,274.50 L472.69,274.45 L472.86,274.40 L473.02,274.35 L473.19,274.30 L473.36,274.24 L473.52,274.20 L473.69,274.15 L473.85,274.10 L474.01,274.05 L474.18,274.00 L474.34,273.95 L474.51,273.91 L474.67,273.86 L474.84,273.82 L475.00,273.77 L475.17,273.73 L475.33,273.68 L475.50,273.64 L475.66,273.60 L475.83,273.56 L476.00,273.51 L476.16,273.47 L476.32,273.43 L476.49,273.39 L476.65,273.35 L476.82,273.31 L476.99,273.27 L477.15,273.23 L477.31,273.19 L477.48,273.16 L477.64,273.12 L477.81,273.08 L477.98,273.04 L478.14,273.01 L478.31,272.97 L478.47,272.94 L478.63,272.90 L478.80,272.86 L478.96,272.83 L479.13,272.80 L479.29,272.76 L479.46,272.73 L479.62,272.69 L479.79,272.66 L479.95,272.63 L480.12,272.60 L480.28,272.56 L480.45,272.53 L480.62,272.50 L480.78,272.47 L480.94,272.44 L481.11,272.41 L481.27,272.38 L481.44,272.35 L481.61,272.32 L481.77,272.29 L481.94,272.26 L482.10,272.23 L482.26,272.20 L482.43,272.17 L482.59,272.15 L482.76,272.12 L482.92,272.09 L483.09,272.06 L483.25,272.04 L483.42,272.01 L483.58,271.98 L483.75,271.96 L483.91,271.93 L484.08,271.90 L484.25,271.88 L484.41,271.85 L484.57,271.83 L484.74,271.80 L484.90,271.78 L485.07,271.75 L485.24,271.73 L485.40,271.70 L485.56,271.68 L485.73,271.66 L485.89,271.63 L486.06,271.61 L486.23,271.59 L486.39,271.56 L486.56,271.54 L486.72,271.52 L486.88,271.50 L487.05,271.47 L487.21,271.45 L487.38,271.43 L487.54,271.41 L487.71,271.39 L487.88,271.36 L488.04,271.34 L488.20,271.32 L488.37,271.30 L488.53,271.28 L488.70,271.26 L488.87,271.24 L489.03,271.22 L489.19,271.20 L489.36,271.18 L489.52,271.16 L489.69,271.14 L489.86,271.12 L490.02,271.10 L490.19,271.08 L490.35,271.06 L490.51,271.04 L490.68,271.03 L490.84,271.01 L491.01,270.99 L491.17,270.97 L491.34,270.95 L491.50,270.93 L491.67,270.92 L491.83,270.90 L492.00,270.88 L492.16,270.86 L492.33,270.85 L492.50,270.83 L492.66,270.81 L492.82,270.79 L492.99,270.78 L493.15,270.76 L493.32,270.74 L493.49,270.73 L493.65,270.71 L493.81,270.69 L493.98,270.68 L494.14,270.66 L494.31,270.65 L494.48,270.63 L494.64,270.61 L494.81,270.60 L494.97,270.58 L495.13,270.57 L495.30,270.55 L495.46,270.54 L495.63,270.52 L495.79,270.51 L495.96,270.49 L496.12,270.48 L496.29,270.46 L496.45,270.45 L496.62,270.43 L496.78,270.42 L496.95,270.41 L497.12,270.39 L497.28,270.38 L497.44,270.36 L497.61,270.35 L497.77,270.33 L497.94,270.32 L498.11,270.31 L498.27,270.29 L498.44,270.28 L498.60,270.27 L498.76,270.25 L498.93,270.24 L499.09,270.23 L499.26,270.21 L499.42,270.20 L499.59,270.19 L499.75,270.18 L499.92,270.16 L500.08,270.15 L500.25,270.14 L500.41,270.12 L500.58,270.11 L500.75,270.10 L500.91,270.09 L501.07,270.08 L501.24,270.06 L501.40,270.05 L501.57,270.04 L501.74,270.03 L501.90,270.02 L502.06,270.00 L502.23,269.99 L502.39,269.98 L502.56,269.97 L502.73,269.96 L502.89,269.95 L503.06,269.93 L503.22,269.92 L503.38,269.91 L503.55,269.90 L503.71,269.89 L503.88,269.88 L504.04,269.87 L504.21,269.86 L504.38,269.85 L504.54,269.83 L504.70,269.82 L504.87,269.81 L505.03,269.80 L505.20,269.79" fill="none" stroke="#f26e2e" stroke-width="2.8" stroke-linejoin="round"/>
<path d="M450.20,402.97 L450.39,402.95 L450.57,402.94 L450.76,402.93 L450.94,402.91 L451.13,402.90 L451.31,402.89 L451.50,402.87 L451.69,402.86 L451.87,402.85 L452.06,402.83 L452.24,402.82 L452.43,402.80 L452.62,402.79 L452.80,402.77 L452.99,402.76 L453.17,402.74 L453.36,402.73 L453.55,402.71 L453.73,402.70 L453.92,402.68 L454.10,402.67 L454.29,402.65 L454.47,402.64 L454.66,402.62 L454.85,402.61 L455.03,402.59 L455.22,402.58 L455.40,402.56 L455.59,402.54 L455.77,402.53 L455.96,402.51 L456.15,402.49 L456.33,402.48 L456.52,402.46 L456.70,402.44 L456.89,402.43 L457.08,402.41 L457.26,402.39 L457.45,402.38 L457.63,402.36 L457.82,402.34 L458.00,402.32 L458.19,402.30 L458.38,402.29 L458.56,402.27 L458.75,402.25 L458.93,402.23 L459.12,402.21 L459.31,402.19 L459.49,402.18 L459.68,402.16 L459.86,402.14 L460.05,402.12 L460.24,402.10 L460.42,402.08 L460.61,402.06 L460.79,402.04 L460.98,402.02 L461.16,402.00 L461.35,401.98 L461.54,401.96 L461.72,401.94 L461.91,401.92 L462.09,401.89 L462.28,401.87 L462.46,401.85 L462.65,401.83 L462.84,401.81 L463.02,401.79 L463.21,401.76 L463.39,401.74 L463.58,401.72 L463.77,401.70 L463.95,401.67 L464.14,401.65 L464.32,401.63 L464.51,401.60 L464.69,401.58 L464.88,401.55 L465.07,401.53 L465.25,401.51 L465.44,401.48 L465.62,401.46 L465.81,401.43 L466.00,401.41 L466.18,401.38 L466.37,401.35 L466.55,401.33 L466.74,401.30 L466.93,401.28 L467.11,401.25 L467.30,401.22 L467.48,401.19 L467.67,401.17 L467.85,401.14 L468.04,401.11 L468.23,401.08 L468.41,401.05 L468.60,401.03 L468.78,401.00 L468.97,400.97 L469.15,400.94 L469.34,400.91 L469.53,400.88 L469.71,400.85 L469.90,400.82 L470.08,400.78 L470.27,400.75 L470.46,400.72 L470.64,400.69 L470.83,400.66 L471.01,400.62 L471.20,400.59 L471.38,400.56 L471.57,400.52 L471.76,400.49 L471.94,400.45 L472.13,400.42 L472.31,400.38 L472.50,400.35 L472.69,400.31 L472.87,400.28 L473.06,400.24 L473.24,400.20 L473.43,400.16 L473.62,400.13 L473.80,400.09 L473.99,400.05 L474.17,400.01 L474.36,399.97 L474.54,399.93 L474.73,399.89 L474.92,399.85 L475.10,399.81 L475.29,399.76 L475.47,399.72 L475.66,399.68 L475.85,399.64 L476.03,399.59 L476.22,399.55 L476.40,399.50 L476.59,399.46 L476.77,399.41 L476.96,399.36 L477.15,399.32 L477.33,399.27 L477.52,399.22 L477.70,399.17 L477.89,399.12 L478.07,399.07 L478.26,399.02 L478.45,398.97 L478.63,398.92 L478.82,398.86 L479.00,398.81 L479.19,398.76 L479.38,398.70 L479.56,398.65 L479.75,398.59 L479.93,398.53 L480.12,398.47 L480.31,398.42 L480.49,398.36 L480.68,398.30 L480.86,398.24 L481.05,398.17 L481.23,398.11 L481.42,398.05 L481.61,397.98 L481.79,397.92 L481.98,397.85 L482.16,397.79 L482.35,397.72 L482.54,397.65 L482.72,397.58 L482.91,397.51 L483.09,397.44 L483.28,397.36 L483.46,397.29 L483.65,397.21 L483.84,397.14 L484.02,397.06 L484.21,396.98 L484.39,396.90 L484.58,396.82 L484.76,396.74 L484.95,396.65 L485.14,396.57 L485.32,396.48 L485.51,396.39 L485.69,396.31 L485.88,396.21 L486.07,396.12 L486.25,396.03 L486.44,395.93 L486.62,395.84 L486.81,395.74 L487.00,395.64 L487.18,395.54 L487.37,395.44 L487.55,395.33 L487.74,395.22 L487.92,395.12 L488.11,395.01 L488.30,394.89 L488.48,394.78 L488.67,394.66 L488.85,394.55 L489.04,394.42 L489.23,394.30 L489.41,394.18 L489.60,394.05 L489.78,393.92 L489.97,393.79 L490.15,393.66 L490.34,393.52 L490.53,393.38 L490.71,393.24 L490.90,393.09 L491.08,392.95 L491.27,392.79 L491.45,392.64 L491.64,392.49 L491.83,392.33 L492.01,392.16 L492.20,392.00 L492.38,391.83 L492.57,391.66 L492.76,391.48 L492.94,391.30 L493.13,391.12 L493.31,390.93 L493.50,390.74 L493.69,390.54 L493.87,390.35 L494.06,390.14 L494.24,389.93 L494.43,389.72 L494.61,389.51 L494.80,389.28 L494.99,389.06 L495.17,388.83 L495.36,388.59 L495.54,388.35 L495.73,388.10 L495.92,387.85 L496.10,387.59 L496.29,387.33 L496.47,387.06 L496.66,386.78 L496.84,386.50 L497.03,386.21 L497.22,385.91 L497.40,385.61 L497.59,385.30 L497.77,384.98 L497.96,384.65 L498.14,384.32 L498.33,383.98 L498.52,383.63 L498.70,383.27 L498.89,382.90 L499.07,382.52 L499.26,382.14 L499.45,381.74 L499.63,381.33 L499.82,380.91 L500.00,380.48 L500.19,380.04 L500.38,379.58 L500.56,379.11 L500.75,378.63 L500.93,378.13 L501.12,377.61 L501.30,377.08 L501.49,376.52 L501.68,375.94 L501.86,375.34 L502.05,374.71 L502.23,374.05 L502.42,373.35 L502.61,372.61 L502.79,371.82 L502.98,370.96 L503.16,370.03 L503.35,369.01 L503.53,367.87 L503.72,366.56 L503.91,365.05 L504.09,363.24 L504.28,361.01 L504.46,358.17 L504.65,354.44 L504.84,349.43 L505.02,342.86 L505.21,335.07 L505.39,327.34 L505.58,320.88 L505.76,315.98 L505.95,312.32 L506.14,309.53 L506.32,307.34 L506.51,305.55 L506.69,304.05 L506.88,302.76 L507.06,301.63 L507.25,300.61 L507.44,299.69 L507.62,298.84 L507.81,298.05 L507.99,297.31 L508.18,296.62 L508.37,295.96 L508.55,295.33 L508.74,294.73 L508.92,294.16 L509.11,293.60 L509.30,293.07 L509.48,292.55 L509.67,292.05 L509.85,291.57 L510.04,291.10 L510.22,290.65 L510.41,290.20 L510.60,289.77 L510.78,289.36 L510.97,288.95 L511.15,288.55 L511.34,288.17 L511.53,287.79 L511.71,287.42 L511.90,287.06 L512.08,286.71 L512.27,286.37 L512.45,286.04 L512.64,285.71 L512.83,285.40 L513.01,285.09 L513.20,284.78 L513.38,284.49 L513.57,284.20 L513.75,283.92 L513.94,283.64 L514.13,283.37 L514.31,283.11 L514.50,282.85 L514.68,282.60 L514.87,282.35 L515.06,282.11 L515.24,281.87 L515.43,281.64 L515.61,281.42 L515.80,281.19 L515.99,280.98 L516.17,280.77 L516.36,280.56 L516.54,280.36 L516.73,280.16 L516.91,279.96 L517.10,279.77 L517.29,279.59 L517.47,279.40 L517.66,279.22 L517.84,279.05 L518.03,278.87 L518.22,278.71 L518.40,278.54 L518.59,278.38 L518.77,278.22 L518.96,278.06 L519.14,277.91 L519.33,277.76 L519.52,277.61 L519.70,277.47 L519.89,277.33 L520.07,277.19 L520.26,277.05 L520.45,276.92 L520.63,276.79 L520.82,276.66 L521.00,276.53 L521.19,276.41 L521.37,276.28 L521.56,276.16 L521.75,276.04 L521.93,275.93 L522.12,275.81 L522.30,275.70 L522.49,275.59 L522.68,275.48 L522.86,275.38 L523.05,275.27 L523.23,275.17 L523.42,275.07 L523.60,274.97 L523.79,274.87 L523.98,274.77 L524.16,274.68 L524.35,274.59 L524.53,274.49 L524.72,274.40 L524.90,274.32 L525.09,274.23 L525.28,274.14 L525.46,274.06 L525.65,273.97 L525.83,273.89 L526.02,273.81 L526.21,273.73 L526.39,273.65 L526.58,273.57 L526.76,273.50 L526.95,273.42 L527.13,273.35 L527.32,273.28 L527.51,273.20 L527.69,273.13 L527.88,273.06 L528.06,272.99 L528.25,272.93 L528.44,272.86 L528.62,272.79 L528.81,272.73 L528.99,272.66 L529.18,272.60 L529.37,272.54 L529.55,272.48 L529.74,272.41 L529.92,272.35 L530.11,272.30 L530.29,272.24 L530.48,272.18 L530.67,272.12 L530.85,272.07 L531.04,272.01 L531.22,271.96 L531.41,271.90 L531.60,271.85 L531.78,271.80 L531.97,271.74 L532.15,271.69 L532.34,271.64 L532.52,271.59 L532.71,271.54 L532.90,271.49 L533.08,271.44 L533.27,271.40 L533.45,271.35 L533.64,271.30 L533.83,271.26 L534.01,271.21 L534.20,271.17 L534.38,271.12 L534.57,271.08 L534.75,271.03 L534.94,270.99 L535.13,270.95 L535.31,270.91 L535.50,270.87 L535.68,270.82 L535.87,270.78 L536.06,270.74 L536.24,270.70 L536.43,270.66 L536.61,270.63 L536.80,270.59 L536.98,270.55 L537.17,270.51 L537.36,270.47 L537.54,270.44 L537.73,270.40 L537.91,270.37 L538.10,270.33 L538.29,270.29 L538.47,270.26 L538.66,270.23 L538.84,270.19 L539.03,270.16 L539.21,270.12 L539.40,270.09 L539.59,270.06 L539.77,270.03 L539.96,269.99 L540.14,269.96 L540.33,269.93 L540.52,269.90 L540.70,269.87 L540.89,269.84 L541.07,269.81 L541.26,269.78 L541.44,269.75 L541.63,269.72 L541.82,269.69 L542.00,269.66 L542.19,269.63 L542.37,269.60 L542.56,269.58 L542.75,269.55 L542.93,269.52 L543.12,269.49 L543.30,269.47 L543.49,269.44 L543.67,269.41 L543.86,269.39 L544.05,269.36 L544.23,269.33 L544.42,269.31 L544.60,269.28 L544.79,269.26 L544.98,269.23 L545.16,269.21 L545.35,269.18 L545.53,269.16 L545.72,269.14 L545.90,269.11 L546.09,269.09 L546.28,269.07 L546.46,269.04 L546.65,269.02 L546.83,269.00 L547.02,268.97 L547.21,268.95 L547.39,268.93 L547.58,268.91 L547.76,268.89 L547.95,268.86 L548.13,268.84 L548.32,268.82 L548.51,268.80 L548.69,268.78 L548.88,268.76 L549.06,268.74 L549.25,268.72 L549.44,268.70 L549.62,268.68 L549.81,268.66 L549.99,268.64 L550.18,268.62 L550.36,268.60 L550.55,268.58 L550.74,268.56 L550.92,268.54 L551.11,268.52 L551.29,268.50 L551.48,268.48 L551.67,268.47 L551.85,268.45 L552.04,268.43 L552.22,268.41 L552.41,268.39 L552.59,268.37 L552.78,268.36 L552.97,268.34 L553.15,268.32 L553.34,268.31 L553.52,268.29 L553.71,268.27 L553.89,268.25 L554.08,268.24 L554.27,268.22 L554.45,268.20 L554.64,268.19 L554.82,268.17 L555.01,268.16 L555.20,268.14 L555.38,268.12 L555.57,268.11 L555.75,268.09 L555.94,268.08 L556.12,268.06 L556.31,268.05 L556.50,268.03 L556.68,268.02 L556.87,268.00 L557.05,267.99 L557.24,267.97 L557.43,267.96 L557.61,267.94 L557.80,267.93 L557.98,267.91 L558.17,267.90 L558.36,267.88 L558.54,267.87 L558.73,267.86 L558.91,267.84 L559.10,267.83 L559.28,267.81 L559.47,267.80 L559.66,267.79 L559.84,267.77 L560.03,267.76 L560.21,267.75 L560.40,267.73 L560.59,267.72 L560.77,267.71 L560.96,267.69 L561.14,267.68 L561.33,267.67 L561.51,267.66 L561.70,267.64" fill="none" stroke="#ee1010" stroke-width="2.8" stroke-linejoin="round"/>
<path d="M571.2,312 V365" stroke="#8c8c8c" stroke-width="1.2"/>
<path d="M566.8,316.5 L571.2,306.2 L575.6,316.5 Z M566.8,360.5 L571.2,370.8 L575.6,360.5 Z" fill="#8c8c8c"/>
<text transform="translate(16.1,25.8) scale(1.05,0.965)" font-size="29">(a)</text>
<text x="106.3" y="49.5" font-size="24.5" text-anchor="end" >100</text>
<text x="106.5" y="146.5" font-size="24.5" text-anchor="end" >50</text>
<text x="106.5" y="244.5" font-size="24.5" text-anchor="end" >0</text>
<text transform="translate(60.5,137) rotate(-90)" font-size="27" text-anchor="middle">Absorption (%)</text>
<text x="580" y="68.5" font-size="24.5" text-anchor="start" >~97%</text>
<text transform="translate(15.9,260) scale(1.05,0.965)" font-size="29">(b)</text>
<text x="104" y="270.8" font-size="20.5" text-anchor="end" ><tspan font-style="italic">π</tspan></text>
<text x="106.6" y="306.5" font-size="24.5" text-anchor="end" ><tspan font-style="italic">π</tspan>/2</text>
<text x="106.3" y="341" font-size="24.5" text-anchor="end" >0</text>
<text x="106.6" y="379" font-size="24.5" text-anchor="end" >-<tspan font-style="italic">π</tspan>/2</text>
<text x="101.7" y="414.8" font-size="24.5" text-anchor="end" >-<tspan dx="-1.5" font-style="italic" font-size="21">π</tspan></text>
<text transform="translate(56.2,332.3) rotate(-90)" font-size="28.3" text-anchor="middle">ΔPhase</text>
<text x="169.53" y="435.5" font-size="24.5" text-anchor="middle" >1520</text>
<text x="281.58" y="435.5" font-size="24.5" text-anchor="middle" >1540</text>
<text x="393.63" y="435.5" font-size="24.5" text-anchor="middle" >1560</text>
<text x="505.68" y="435.5" font-size="24.5" text-anchor="middle" >1580</text>
<text x="337.5" y="456.5" font-size="27" text-anchor="middle" >Wavelength (nm)</text>
<text x="572.5" y="343.3" font-size="24.5" text-anchor="start" >~0.95<tspan font-style="italic" font-size="22">π</tspan></text>
<text transform="translate(14.9,470.5) scale(1.1,0.965)" font-size="29">(c)</text>
<text x="85.8" y="505.5" font-size="24.5" text-anchor="end" >-500</text>
<text x="85.8" y="602.5" font-size="24.5" text-anchor="end" >0</text>
<text x="85.8" y="698.5" font-size="24.5" text-anchor="end" >500</text>
<text x="85.8" y="796" font-size="24.5" text-anchor="end" >1000</text>
<text transform="translate(22,641.5) rotate(-90)" font-size="27" text-anchor="middle">z (nm)</text>
<text x="108.4" y="817.5" font-size="24.5" text-anchor="middle" >300</text>
<text x="167.35" y="817.5" font-size="24.5" text-anchor="middle" >0</text>
<text x="225.1" y="817.5" font-size="24.5" text-anchor="middle" >300</text>
<text x="167.35" y="849.7" font-size="27" text-anchor="middle" >x (nm)</text>
<text x="275.7" y="817.5" font-size="24.5" text-anchor="middle" >-300</text>
<text x="335.0" y="817.5" font-size="24.5" text-anchor="middle" >0</text>
<text x="391.6" y="817.5" font-size="24.5" text-anchor="middle" >300</text>
<text x="335.275" y="849.7" font-size="27" text-anchor="middle" >x (nm)</text>
<text x="436.3" y="817.5" font-size="24.5" text-anchor="middle" >400</text>
<text x="511.0" y="817.5" font-size="24.5" text-anchor="middle" >0</text>
<text x="589.5" y="817.5" font-size="24.5" text-anchor="middle" >400</text>
<text x="511.25" y="849.7" font-size="27" text-anchor="middle" >x (nm)</text>
</svg>
<canvas id="hm0" width="149" height="292" style="left:93.0px;top:494.6px;width:148.70px;height:291.90px;background:radial-gradient(ellipse 30px 27px at 0% 113px,#b00010 0,#ff2020 45%,#d8d8d8 72%,rgba(40,40,255,0) 100%),radial-gradient(ellipse 30px 27px at 0% 166px,#c00010 0,#ff2020 45%,#d8d8d8 72%,rgba(40,40,255,0) 100%),radial-gradient(ellipse 30px 27px at 50% 113px,#b00010 0,#ff2020 45%,#d8d8d8 72%,rgba(40,40,255,0) 100%),radial-gradient(ellipse 30px 27px at 50% 166px,#c00010 0,#ff2020 45%,#d8d8d8 72%,rgba(40,40,255,0) 100%),radial-gradient(ellipse 30px 27px at 100% 113px,#b00010 0,#ff2020 45%,#d8d8d8 72%,rgba(40,40,255,0) 100%),radial-gradient(ellipse 30px 27px at 100% 166px,#c00010 0,#ff2020 45%,#d8d8d8 72%,rgba(40,40,255,0) 100%),linear-gradient(#0c12b0 0,#1a24d8 25%,#2030f0 40%,#101090 48%,#2030f0 55%,#1a20d0 75%,#0808a0 100%)"></canvas>
<canvas id="hm1" width="155" height="292" style="left:257.8px;top:494.6px;width:154.95px;height:291.90px;background:radial-gradient(ellipse 30px 27px at 0% 113px,#b00010 0,#ff2020 45%,#d8d8d8 72%,rgba(40,40,255,0) 100%),radial-gradient(ellipse 30px 27px at 0% 166px,#c00010 0,#ff2020 45%,#d8d8d8 72%,rgba(40,40,255,0) 100%),radial-gradient(ellipse 30px 27px at 50% 113px,#b00010 0,#ff2020 45%,#d8d8d8 72%,rgba(40,40,255,0) 100%),radial-gradient(ellipse 30px 27px at 50% 166px,#c00010 0,#ff2020 45%,#d8d8d8 72%,rgba(40,40,255,0) 100%),radial-gradient(ellipse 30px 27px at 100% 113px,#b00010 0,#ff2020 45%,#d8d8d8 72%,rgba(40,40,255,0) 100%),radial-gradient(ellipse 30px 27px at 100% 166px,#c00010 0,#ff2020 45%,#d8d8d8 72%,rgba(40,40,255,0) 100%),linear-gradient(#0c12b0 0,#1a24d8 25%,#2030f0 40%,#101090 48%,#2030f0 55%,#1a20d0 75%,#0808a0 100%)"></canvas>
<canvas id="hm2" width="163" height="292" style="left:429.9px;top:494.6px;width:162.70px;height:291.90px;background:radial-gradient(ellipse 30px 27px at 0% 113px,#b00010 0,#ff2020 45%,#d8d8d8 72%,rgba(40,40,255,0) 100%),radial-gradient(ellipse 30px 27px at 0% 166px,#c00010 0,#ff2020 45%,#d8d8d8 72%,rgba(40,40,255,0) 100%),radial-gradient(ellipse 30px 27px at 50% 113px,#b00010 0,#ff2020 45%,#d8d8d8 72%,rgba(40,40,255,0) 100%),radial-gradient(ellipse 30px 27px at 50% 166px,#c00010 0,#ff2020 45%,#d8d8d8 72%,rgba(40,40,255,0) 100%),radial-gradient(ellipse 30px 27px at 100% 113px,#b00010 0,#ff2020 45%,#d8d8d8 72%,rgba(40,40,255,0) 100%),radial-gradient(ellipse 30px 27px at 100% 166px,#c00010 0,#ff2020 45%,#d8d8d8 72%,rgba(40,40,255,0) 100%),linear-gradient(#0c12b0 0,#1a24d8 25%,#2030f0 40%,#101090 48%,#2030f0 55%,#1a20d0 75%,#0808a0 100%)"></canvas>
<svg width="668" height="857" viewBox="0 0 668 857">
<rect x="93.0" y="494.6" width="148.7" height="291.9" fill="none" stroke="#333" stroke-width="0.8"/>
<path d="M108.40,786.5 v-2.5 M108.40,494.6 v2.5 M167.35,786.5 v-2.5 M167.35,494.6 v2.5 M225.10,786.5 v-2.5 M225.10,494.6 v2.5 M93.0,591.90 h2.5 M241.7,591.90 h-2.5 M93.0,689.20 h2.5 M241.7,689.20 h-2.5 " stroke="#222" stroke-width="1"/>
<path d="M93.0,592.6 H241.7" stroke="#000" stroke-width="1.6" stroke-dasharray="7.4 7.5"/>
<path d="M93.0,600.2 H241.7" stroke="#fff" stroke-width="1.6" stroke-dasharray="7.4 7.5"/>
<path d="M93.0,620.2 H241.7" stroke="#fff" stroke-width="1.6" stroke-dasharray="7.4 7.5"/>
<path d="M93.0,643.6 H241.7" stroke="#fff" stroke-width="1.6" stroke-dasharray="7.4 7.5"/>
<path d="M93.0,669.0 H241.7" stroke="#fff" stroke-width="1.6" stroke-dasharray="7.4 7.5"/>
<text x="172.85" y="518" font-size="20" text-anchor="middle" style="fill:#f0f0f8;stroke:#f0f0f8;stroke-width:0.15px">1520 nm</text>
<rect x="257.8" y="494.6" width="154.95" height="291.9" fill="none" stroke="#333" stroke-width="0.8"/>
<path d="M276.90,786.5 v-2.5 M276.90,494.6 v2.5 M335.00,786.5 v-2.5 M335.00,494.6 v2.5 M391.60,786.5 v-2.5 M391.60,494.6 v2.5 M257.8,591.90 h2.5 M412.75,591.90 h-2.5 M257.8,689.20 h2.5 M412.75,689.20 h-2.5 " stroke="#222" stroke-width="1"/>
<path d="M257.8,592.6 H412.75" stroke="#000" stroke-width="1.6" stroke-dasharray="7.4 7.5"/>
<path d="M257.8,600.2 H412.75" stroke="#fff" stroke-width="1.6" stroke-dasharray="7.4 7.5"/>
<path d="M257.8,620.2 H412.75" stroke="#fff" stroke-width="1.6" stroke-dasharray="7.4 7.5"/>
<path d="M257.8,643.6 H412.75" stroke="#fff" stroke-width="1.6" stroke-dasharray="7.4 7.5"/>
<path d="M257.8,669.0 H412.75" stroke="#fff" stroke-width="1.6" stroke-dasharray="7.4 7.5"/>
<text x="339.47" y="518" font-size="20" text-anchor="middle" style="fill:#f0f0f8;stroke:#f0f0f8;stroke-width:0.15px">1550 nm</text>
<rect x="429.9" y="494.6" width="162.70000000000005" height="291.9" fill="none" stroke="#333" stroke-width="0.8"/>
<path d="M436.30,786.5 v-2.5 M436.30,494.6 v2.5 M511.00,786.5 v-2.5 M511.00,494.6 v2.5 M589.50,786.5 v-2.5 M589.50,494.6 v2.5 M429.9,591.90 h2.5 M592.6,591.90 h-2.5 M429.9,689.20 h2.5 M592.6,689.20 h-2.5 " stroke="#222" stroke-width="1"/>
<path d="M429.9,592.6 H592.6" stroke="#000" stroke-width="1.6" stroke-dasharray="7.4 7.5"/>
<path d="M429.9,600.2 H592.6" stroke="#fff" stroke-width="1.6" stroke-dasharray="7.4 7.5"/>
<path d="M429.9,620.2 H592.6" stroke="#fff" stroke-width="1.6" stroke-dasharray="7.4 7.5"/>
<path d="M429.9,643.6 H592.6" stroke="#fff" stroke-width="1.6" stroke-dasharray="7.4 7.5"/>
<path d="M429.9,669.0 H592.6" stroke="#fff" stroke-width="1.6" stroke-dasharray="7.4 7.5"/>
<text x="515.25" y="518" font-size="20" text-anchor="middle" style="fill:#f0f0f8;stroke:#f0f0f8;stroke-width:0.15px">1580 nm</text>
<defs><linearGradient id="cb" x1="0" y1="1" x2="0" y2="0"><stop offset="0" stop-color="#00005a"/><stop offset="0.244" stop-color="#1010ff"/><stop offset="0.5" stop-color="#c8c8c8"/><stop offset="0.748" stop-color="#ff1a1a"/><stop offset="1" stop-color="#6e000a"/></linearGradient></defs>
<rect x="620" y="494" width="16.6" height="292.5" fill="url(#cb)" stroke="#555" stroke-width="0.8"/>
<path d="M636.6,743.50 h-3.5" stroke="#333" stroke-width="1"/>
<text x="644" y="751.00" font-size="22">2</text>
<path d="M636.6,700.20 h-3.5" stroke="#333" stroke-width="1"/>
<text x="644" y="707.70" font-size="22">4</text>
<path d="M636.6,656.90 h-3.5" stroke="#333" stroke-width="1"/>
<text x="644" y="664.40" font-size="22">6</text>
<path d="M636.6,613.60 h-3.5" stroke="#333" stroke-width="1"/>
<text x="644" y="621.10" font-size="22">8</text>
<path d="M636.6,570.30 h-3.5" stroke="#333" stroke-width="1"/>
<text x="644" y="577.80" font-size="22">10</text>
<path d="M636.6,527.00 h-3.5" stroke="#333" stroke-width="1"/>
<text x="644" y="534.50" font-size="22">12</text>
</svg>
<script>
(function(){
var CM=[[0,0,0,90],[3.3,16,16,255],[6.75,200,200,200],[10.1,255,26,26],[13.5,110,0,10]];
function cmap(v){
  if(v<=0) return CM[0];
  for(var i=1;i<CM.length;i++){ if(v<=CM[i][0]){var a=CM[i-1],b=CM[i],t=(v-a[0])/(b[0]-a[0]);return [0,a[1]+(b[1]-a[1])*t,a[2]+(b[2]-a[2])*t,a[3]+(b[3]-a[3])*t];}}
  return CM[CM.length-1];
}
function pchip(xs,ys){
  var n=xs.length,h=[],d=[],m=[];
  for(var i=0;i<n-1;i++){h[i]=xs[i+1]-xs[i];d[i]=(ys[i+1]-ys[i])/h[i];}
  m[0]=d[0];m[n-1]=d[n-2];
  for(var i=1;i<n-1;i++){ if(d[i-1]*d[i]<=0) m[i]=0; else { var w1=2*h[i]+h[i-1],w2=h[i]+2*h[i-1]; m[i]=(w1+w2)/(w1/d[i-1]+w2/d[i]); } }
  return function(x){
    if(x<=xs[0]) return ys[0]; if(x>=xs[n-1]) return ys[n-1];
    var i=0; while(x>xs[i+1]) i++;
    var t=(x-xs[i])/h[i],t2=t*t,t3=t2*t;
    return (2*t3-3*t2+1)*ys[i]+(t3-2*t2+t)*h[i]*m[i]+(-2*t3+3*t2)*ys[i+1]+(t3-t2)*h[i]*m[i+1];
  };
}
function mk(pts){var xs=[],ys=[];for(var i=0;i<pts.length;i++){xs.push(pts[i][0]);ys.push(pts[i][1]);}return pchip(xs,ys);}
var fAc=mk([[-300,0.3],[-250,1.3],[-205,2.5],[-163,3.5],[-87,5.3],[-49,6.5],[0,8.0],[30,10.0],[80,12.3],[152,8.6],[166,6.8],[185,4.6],[205,2.3],[224,0],[243,-2.3],[262,-4.6],[280,-6.6],[290,-7.4],[309,-9.2],[352,-11.5],[438,-9.0],[467,-6.9],[506,-5.8],[558,-4.4],[630,-3.3],[800,-2.0],[1000,-1.25]]);
var fAe=mk([[-500,1.6],[-410,2.1],[-300,3.0],[-205,4.0],[-163,4.5],[-87,5.8],[-49,7.0],[0,9.0],[30,10.3],[80,12.6],[152,8.8],[166,7.0],[185,4.6],[205,2.3],[224,0],[243,-2.3],[262,-4.6],[280,-6.6],[290,-7.4],[309,-9.2],[352,-11.5],[438,-9.0],[467,-6.9],[506,-5.8],[558,-4.4],[630,-3.3],[800,-2.0],[1000,-1.25]]);
var fUn=mk([[-500,0],[-302,0],[-295,0.08],[-280,0.15],[-250,0.23],[-205,0.305],[-163,0.348],[-87,0.39],[0,0.405],[80,0.42],[152,0.46],[190,0.5],[1000,0.5]]);
var fK=mk([[-500,1.2],[-205,1.3],[-30,1.15],[40,1.0],[1000,1.0]]);
var fC=mk([[-500,1.35],[-410,1.1],[-300,0.6],[-205,0.35],[0,0.35],[152,0.5],[224,0.8],[352,0.5],[506,0.6],[558,0.8],[630,1.0],[800,1.0],[1000,0.9]]);
function draw(id){
  var c=document.getElementById(id); if(!c||!c.getContext) return;
  var w=c.width,h=c.height,ctx=c.getContext('2d'),img=ctx.createImageData(w,h),d=img.data,H=Math.PI/2;
  for(var j=0;j<h;j++){
    var z=-500+1500*(j+0.5)/h, Ac=fAc(z), Ae=fAe(z), un=fUn(z), k=fK(z), C=fC(z);
    for(var i=0;i<w;i++){
      var u=Math.abs(-1+2*(i+0.5)/w), f;
      if(u<un){ f=Ac*Math.cos(H*Math.pow(u/un,k)); }
      else { f=-Ae*Math.cos(H*Math.pow((1-u)/(1-un),k)); }
      var v=Math.sqrt(f*f+C*C);
      var col=cmap(v),q=(j*w+i)*4;
      d[q]=col[1];d[q+1]=col[2];d[q+2]=col[3];d[q+3]=255;
    }
  }
  ctx.putImageData(img,0,0);
}
draw('hm0');draw('hm1');draw('hm2');
})();

</script>
</body></html>
